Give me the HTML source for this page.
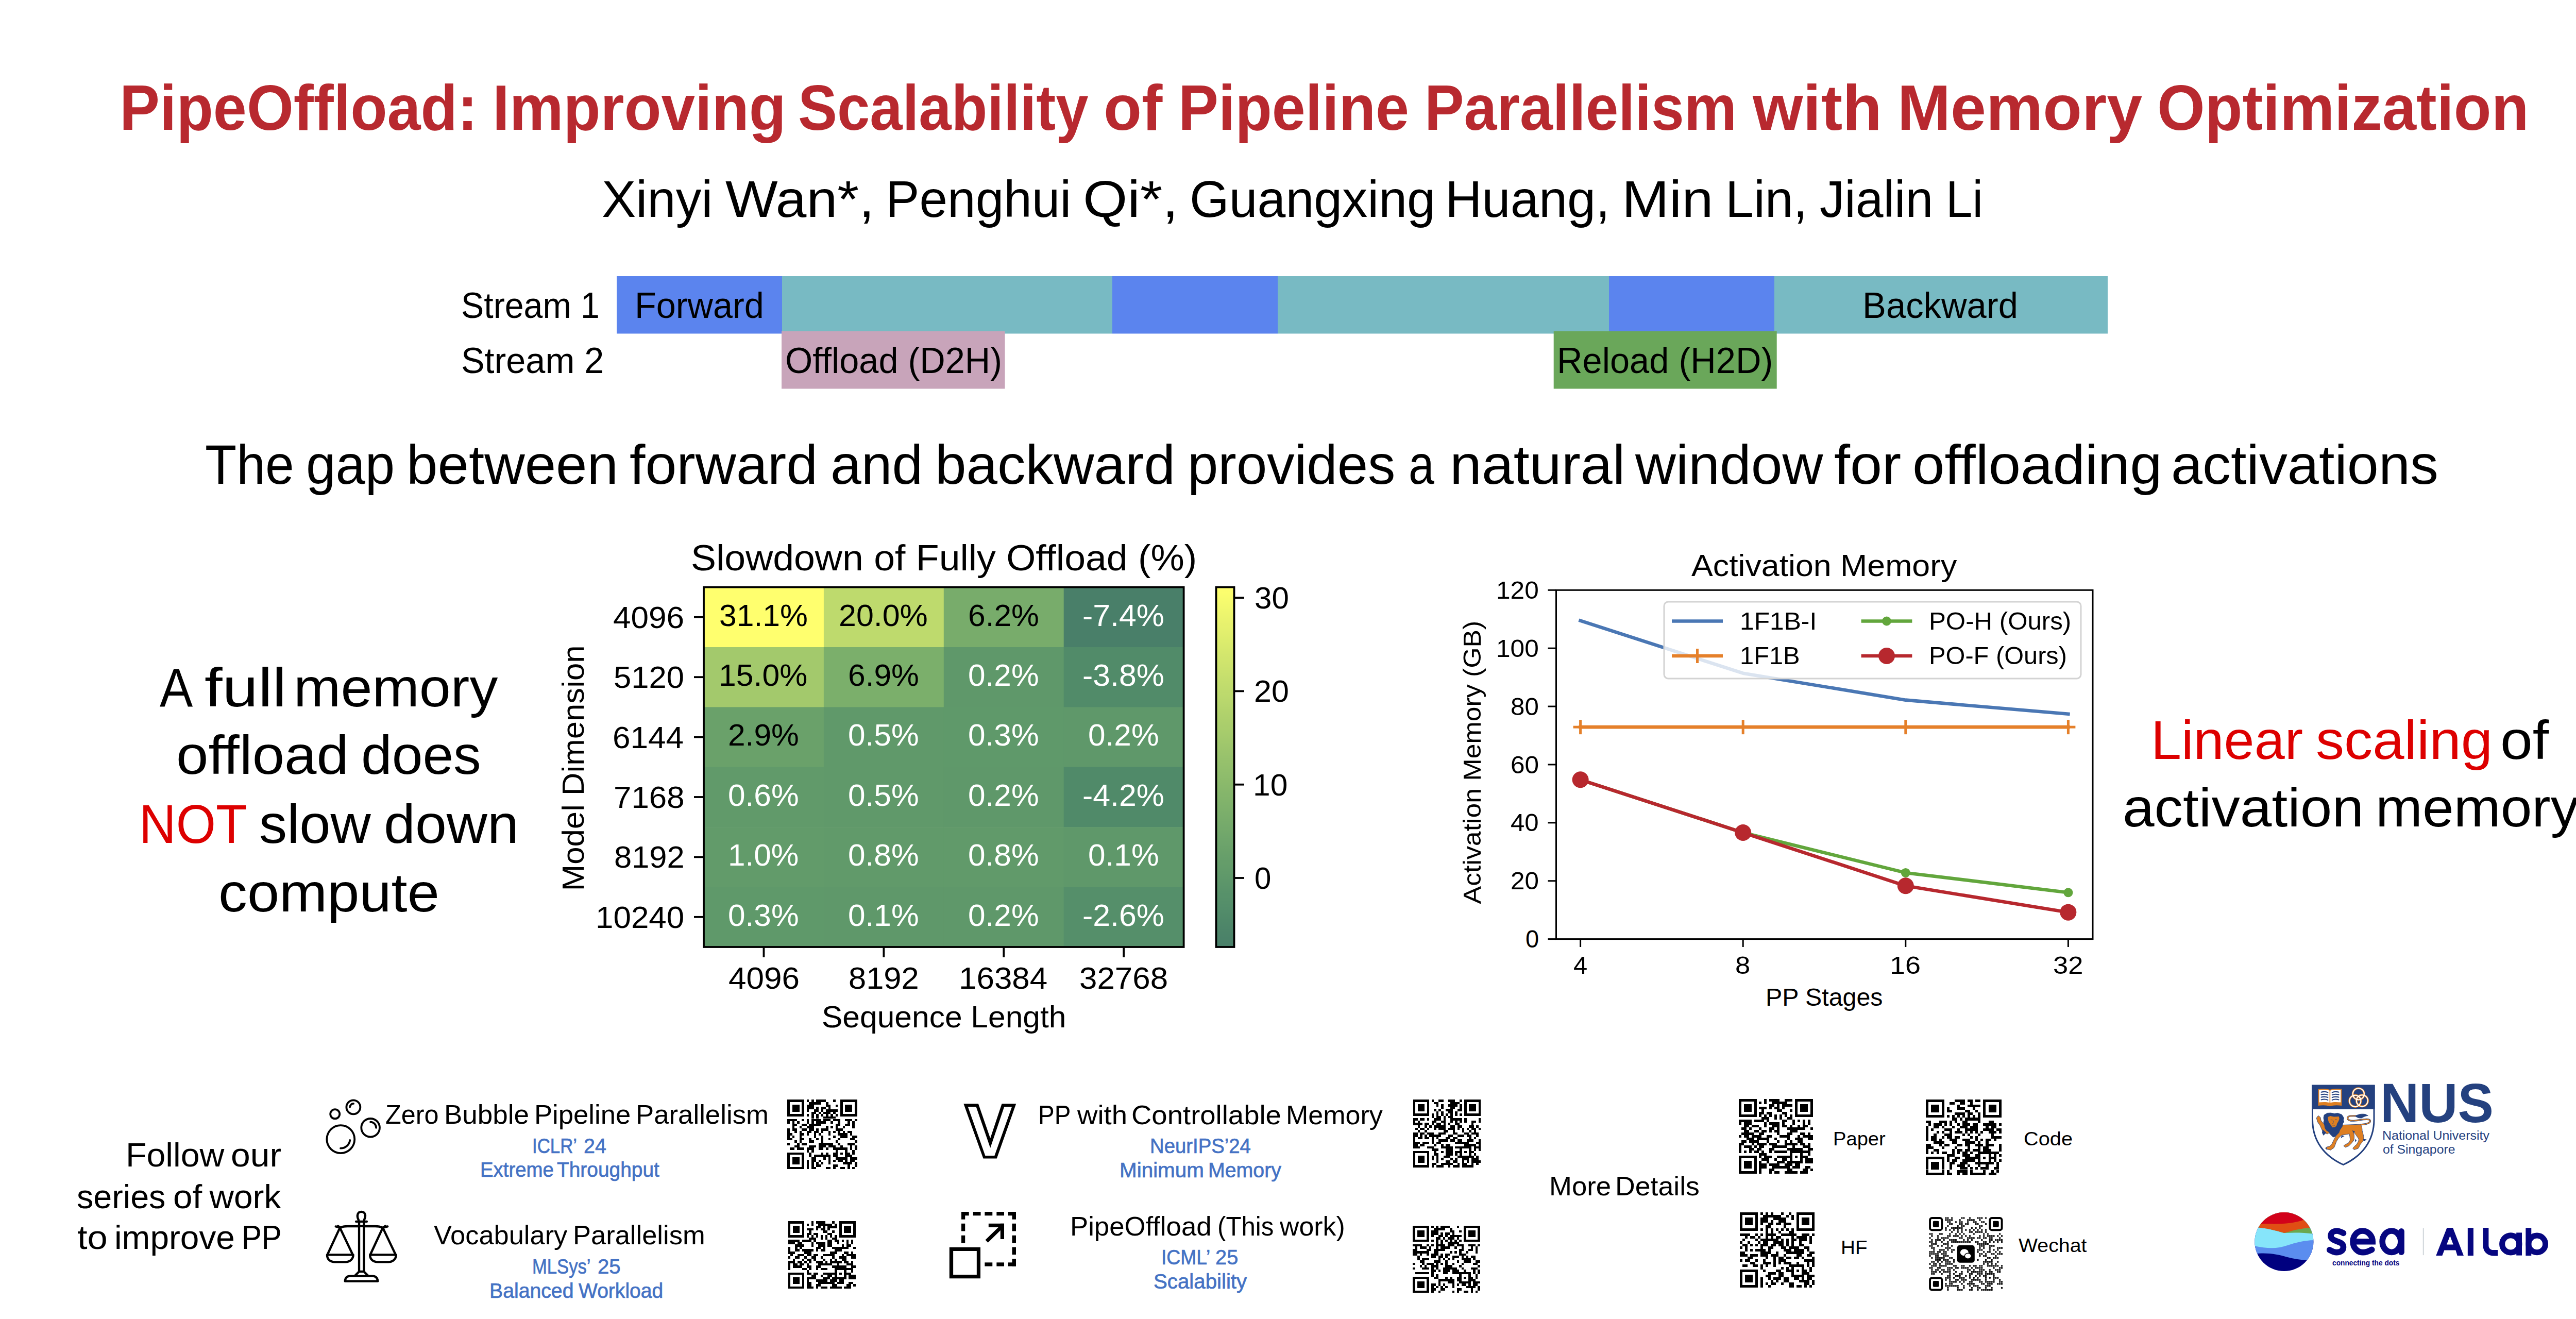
<!DOCTYPE html>
<html><head><meta charset="utf-8"><style>
html,body{margin:0;padding:0;background:#fff;width:5120px;height:2560px;overflow:hidden}
body{position:relative;font-family:"Liberation Sans",sans-serif}
.t{position:absolute;line-height:0;white-space:nowrap;transform-origin:0 0}
svg{position:absolute;left:0;top:0}
</style></head><body>
<svg width="5120" height="2560" viewBox="0 0 5120 2560">
<rect x="1197" y="536" width="321" height="111.5" fill="#5B84EE"/>
<rect x="1518" y="536" width="641" height="111.5" fill="#78BAC3"/>
<rect x="2159" y="536" width="321" height="111.5" fill="#5B84EE"/>
<rect x="2480" y="536" width="643" height="111.5" fill="#78BAC3"/>
<rect x="3123" y="536" width="321" height="111.5" fill="#5B84EE"/>
<rect x="3444" y="536" width="647" height="111.5" fill="#78BAC3"/>
<rect x="1517" y="643" width="433.5" height="111.5" fill="#C8A4BA"/>
<rect x="3015.7" y="643" width="433" height="111.5" fill="#6AA75A"/>
<rect x="1366" y="1139.6" width="233.5" height="117" fill="#FFFF6E"/>
<rect x="1598.9" y="1139.6" width="233.5" height="117" fill="#BEDA6D"/>
<rect x="1831.8" y="1139.6" width="233.5" height="117" fill="#78AC6B"/>
<rect x="2064.7" y="1139.6" width="233.5" height="117" fill="#497F69"/>
<rect x="1366" y="1256" width="233.5" height="117" fill="#A3C96C"/>
<rect x="1598.9" y="1256" width="233.5" height="117" fill="#7BAF6B"/>
<rect x="1831.8" y="1256" width="233.5" height="117" fill="#5F986A"/>
<rect x="2064.7" y="1256" width="233.5" height="117" fill="#518B69"/>
<rect x="1366" y="1372.4" width="233.5" height="117" fill="#6AA16A"/>
<rect x="1598.9" y="1372.4" width="233.5" height="117" fill="#60996A"/>
<rect x="1831.8" y="1372.4" width="233.5" height="117" fill="#5F996A"/>
<rect x="2064.7" y="1372.4" width="233.5" height="117" fill="#5F986A"/>
<rect x="1366" y="1488.8" width="233.5" height="117" fill="#619A6A"/>
<rect x="1598.9" y="1488.8" width="233.5" height="117" fill="#60996A"/>
<rect x="1831.8" y="1488.8" width="233.5" height="117" fill="#5F986A"/>
<rect x="2064.7" y="1488.8" width="233.5" height="117" fill="#508A69"/>
<rect x="1366" y="1605.2" width="233.5" height="117" fill="#629B6A"/>
<rect x="1598.9" y="1605.2" width="233.5" height="117" fill="#619A6A"/>
<rect x="1831.8" y="1605.2" width="233.5" height="117" fill="#619A6A"/>
<rect x="2064.7" y="1605.2" width="233.5" height="117" fill="#5F986A"/>
<rect x="1366" y="1721.6" width="233.5" height="117" fill="#5F996A"/>
<rect x="1598.9" y="1721.6" width="233.5" height="117" fill="#5F986A"/>
<rect x="1831.8" y="1721.6" width="233.5" height="117" fill="#5F986A"/>
<rect x="2064.7" y="1721.6" width="233.5" height="117" fill="#558F6A"/>
<rect x="1366" y="1139.6" width="931.6" height="698.4" fill="none" stroke="#000" stroke-width="3.8"/>
<line x1="1347" y1="1197.8" x2="1366" y2="1197.8" stroke="#000" stroke-width="3.8"/>
<line x1="1347" y1="1314.2" x2="1366" y2="1314.2" stroke="#000" stroke-width="3.8"/>
<line x1="1347" y1="1430.6" x2="1366" y2="1430.6" stroke="#000" stroke-width="3.8"/>
<line x1="1347" y1="1547" x2="1366" y2="1547" stroke="#000" stroke-width="3.8"/>
<line x1="1347" y1="1663.4" x2="1366" y2="1663.4" stroke="#000" stroke-width="3.8"/>
<line x1="1347" y1="1779.8" x2="1366" y2="1779.8" stroke="#000" stroke-width="3.8"/>
<line x1="1482.45" y1="1838" x2="1482.45" y2="1858" stroke="#000" stroke-width="3.8"/>
<line x1="1715.35" y1="1838" x2="1715.35" y2="1858" stroke="#000" stroke-width="3.8"/>
<line x1="1948.25" y1="1838" x2="1948.25" y2="1858" stroke="#000" stroke-width="3.8"/>
<line x1="2181.15" y1="1838" x2="2181.15" y2="1858" stroke="#000" stroke-width="3.8"/>
<defs><linearGradient id="cbg" x1="0" y1="0" x2="0" y2="1"><stop offset="0.000" stop-color="#FFFF6E"/><stop offset="0.050" stop-color="#F3F96E"/><stop offset="0.100" stop-color="#E8F26E"/><stop offset="0.150" stop-color="#DCEC6D"/><stop offset="0.200" stop-color="#D1E56D"/><stop offset="0.250" stop-color="#C6DF6D"/><stop offset="0.300" stop-color="#BCD96D"/><stop offset="0.350" stop-color="#B1D26C"/><stop offset="0.400" stop-color="#A7CC6C"/><stop offset="0.450" stop-color="#9DC56C"/><stop offset="0.500" stop-color="#93BF6C"/><stop offset="0.550" stop-color="#8AB96B"/><stop offset="0.600" stop-color="#80B26B"/><stop offset="0.650" stop-color="#78AC6B"/><stop offset="0.700" stop-color="#6FA56B"/><stop offset="0.750" stop-color="#679F6A"/><stop offset="0.800" stop-color="#60996A"/><stop offset="0.850" stop-color="#58926A"/><stop offset="0.900" stop-color="#528C6A"/><stop offset="0.950" stop-color="#4D8569"/><stop offset="1.000" stop-color="#497F69"/></linearGradient></defs>
<rect x="2360.5" y="1139.6" width="35" height="698.4" fill="url(#cbg)" stroke="#000" stroke-width="3.8"/>
<line x1="2395.5" y1="1160.1" x2="2415" y2="1160.1" stroke="#000" stroke-width="3.8"/>
<line x1="2395.5" y1="1341.4" x2="2415" y2="1341.4" stroke="#000" stroke-width="3.8"/>
<line x1="2395.5" y1="1522.7" x2="2415" y2="1522.7" stroke="#000" stroke-width="3.8"/>
<line x1="2395.5" y1="1704" x2="2415" y2="1704" stroke="#000" stroke-width="3.8"/>
<polyline points="3067.6,1204.56 3383.2,1306.72 3698.8,1358.65 4014.4,1385.74" fill="none" stroke="#4A77B4" stroke-width="6.6" stroke-linejoin="round" stroke-linecap="square"/>
<polyline points="3067.6,1411.14 3383.2,1411.14 3698.8,1411.14 4014.4,1411.14" fill="none" stroke="#E5802A" stroke-width="6.6" stroke-linejoin="round" stroke-linecap="square"/>
<line x1="3067.6" y1="1397.14" x2="3067.6" y2="1425.14" stroke="#E5802A" stroke-width="5"/>
<line x1="3053.6" y1="1411.14" x2="3081.6" y2="1411.14" stroke="#E5802A" stroke-width="5"/>
<line x1="3383.2" y1="1397.14" x2="3383.2" y2="1425.14" stroke="#E5802A" stroke-width="5"/>
<line x1="3369.2" y1="1411.14" x2="3397.2" y2="1411.14" stroke="#E5802A" stroke-width="5"/>
<line x1="3698.8" y1="1397.14" x2="3698.8" y2="1425.14" stroke="#E5802A" stroke-width="5"/>
<line x1="3684.8" y1="1411.14" x2="3712.8" y2="1411.14" stroke="#E5802A" stroke-width="5"/>
<line x1="4014.4" y1="1397.14" x2="4014.4" y2="1425.14" stroke="#E5802A" stroke-width="5"/>
<line x1="4000.4" y1="1411.14" x2="4028.4" y2="1411.14" stroke="#E5802A" stroke-width="5"/>
<polyline points="3067.6,1513.3 3383.2,1616.02 3698.8,1693.91 4014.4,1732.29" fill="none" stroke="#62A63C" stroke-width="6.6" stroke-linejoin="round" stroke-linecap="square"/>
<circle cx="3067.6" cy="1513.3" r="9" fill="#62A63C"/>
<circle cx="3383.2" cy="1616.02" r="9" fill="#62A63C"/>
<circle cx="3698.8" cy="1693.91" r="9" fill="#62A63C"/>
<circle cx="4014.4" cy="1732.29" r="9" fill="#62A63C"/>
<polyline points="3067.6,1513.3 3383.2,1616.02 3698.8,1719.31 4014.4,1770.67" fill="none" stroke="#B7282E" stroke-width="6.6" stroke-linejoin="round" stroke-linecap="square"/>
<circle cx="3067.6" cy="1513.3" r="16" fill="#B7282E"/>
<circle cx="3383.2" cy="1616.02" r="16" fill="#B7282E"/>
<circle cx="3698.8" cy="1719.31" r="16" fill="#B7282E"/>
<circle cx="4014.4" cy="1770.67" r="16" fill="#B7282E"/>
<rect x="3230" y="1168" width="809" height="149" rx="8" ry="8" fill="#fff" fill-opacity="0.8" stroke="#D3D3D3" stroke-width="3"/>
<line x1="3245" y1="1205.5" x2="3344" y2="1205.5" stroke="#4A77B4" stroke-width="6.6"/>
<line x1="3245" y1="1273" x2="3344" y2="1273" stroke="#E5802A" stroke-width="6.6"/>
<line x1="3294.5" y1="1259" x2="3294.5" y2="1287" stroke="#E5802A" stroke-width="5"/>
<line x1="3612.6" y1="1205.5" x2="3711.4" y2="1205.5" stroke="#62A63C" stroke-width="6.6"/>
<circle cx="3662" cy="1205.5" r="9" fill="#62A63C"/>
<line x1="3612.6" y1="1273" x2="3711.4" y2="1273" stroke="#B7282E" stroke-width="6.6"/>
<circle cx="3662" cy="1273" r="16" fill="#B7282E"/>
<rect x="3020.5" y="1145.3" width="1041.5" height="677.3" fill="none" stroke="#000" stroke-width="3"/>
<line x1="3004.5" y1="1822.6" x2="3020.5" y2="1822.6" stroke="#000" stroke-width="3"/>
<line x1="3004.5" y1="1709.72" x2="3020.5" y2="1709.72" stroke="#000" stroke-width="3"/>
<line x1="3004.5" y1="1596.83" x2="3020.5" y2="1596.83" stroke="#000" stroke-width="3"/>
<line x1="3004.5" y1="1483.95" x2="3020.5" y2="1483.95" stroke="#000" stroke-width="3"/>
<line x1="3004.5" y1="1371.07" x2="3020.5" y2="1371.07" stroke="#000" stroke-width="3"/>
<line x1="3004.5" y1="1258.18" x2="3020.5" y2="1258.18" stroke="#000" stroke-width="3"/>
<line x1="3004.5" y1="1145.3" x2="3020.5" y2="1145.3" stroke="#000" stroke-width="3"/>
<line x1="3067.6" y1="1822.6" x2="3067.6" y2="1838" stroke="#000" stroke-width="3"/>
<line x1="3383.2" y1="1822.6" x2="3383.2" y2="1838" stroke="#000" stroke-width="3"/>
<line x1="3698.8" y1="1822.6" x2="3698.8" y2="1838" stroke="#000" stroke-width="3"/>
<line x1="4014.4" y1="1822.6" x2="4014.4" y2="1838" stroke="#000" stroke-width="3"/>
<svg x="620" y="2120" width="140" height="140" viewBox="0 0 1288 1288"><g fill="none" stroke="#000" stroke-width="35" stroke-linecap="round" stroke-linejoin="round"><circle cx="278" cy="388" r="83"/><circle cx="606" cy="265" r="124"/><circle cx="912" cy="633" r="164"/><circle cx="380" cy="838" r="248"/><path d="M545 262 A63 63 0 0 1 608 202"/><path d="M912 530 A103 103 0 0 1 1013 633"/><path d="M545 855 A166 166 0 0 1 378 1000"/></g></svg>
<svg x="620" y="2340" width="160" height="160" viewBox="0 0 1288 1288"><g fill="none" stroke="#000" stroke-width="35" stroke-linecap="round" stroke-linejoin="round"><path d="M620 1030 V250 M695 1030 V250 M620 320 H695"/><path d="M612 225 C575 150 600 95 655 95 C712 95 735 150 698 225"/><path d="M572 248 H740"/><path d="M330 345 C360 325 400 322 440 322 H600 M715 322 H870 C910 322 950 325 980 345"/><path d="M255 325 L330 345 L290 318 M1065 325 L990 345 L1030 318"/><path d="M320 345 L125 765 M320 345 L520 765 M120 768 H528 M120 768 C120 830 160 880 240 880 H410 C480 880 528 830 528 768"/><path d="M990 345 L795 765 M990 345 L1190 765 M790 768 H1198 M790 768 C790 830 830 880 910 880 H1080 C1150 880 1198 830 1198 768"/><path d="M620 1030 H695 L760 1095 M620 1030 L555 1095"/><path d="M400 1180 C405 1120 440 1100 480 1100 H830 C870 1100 905 1120 912 1180 Z"/></g></svg>
<svg x="1830" y="2120" width="160" height="160" viewBox="0 0 1288 1288"><path fill="#000" fill-rule="evenodd" d="M325 180 H555 L742 718 L922 180 H1145 L843 1035 H632 Z M392 225 L663 990 H808 L1080 225 H960 L742 870 L520 225 Z"/></svg>
<svg x="1830" y="2340" width="160" height="160" viewBox="0 0 1288 1288"><rect x="290" y="97" width="118" height="58"/><rect x="290" y="97" width="58" height="118"/><rect x="473" y="97" width="119" height="58"/><rect x="655" y="97" width="120" height="58"/><rect x="840" y="97" width="118" height="58"/><rect x="1022" y="97" width="121" height="58"/><rect x="1083" y="97" width="60" height="118"/><rect x="1083" y="280" width="60" height="118"/><rect x="1083" y="465" width="60" height="118"/><rect x="1083" y="648" width="60" height="117"/><rect x="1083" y="830" width="60" height="117"/><rect x="1022" y="888" width="121" height="59"/><rect x="655" y="888" width="120" height="59"/><rect x="840" y="888" width="118" height="59"/><rect x="290" y="280" width="58" height="118"/><rect x="290" y="465" width="58" height="118"/><rect x="715" y="280" width="243" height="58"/><rect x="900" y="280" width="58" height="243"/><path d="M103 650 H588 V1138 H103 Z M162 708 V1078 H530 V708 Z" fill-rule="evenodd"/><path d="M685 557 L925 322" stroke="#000" stroke-width="58"/></svg>
<path fill="#000" shape-rendering="crispEdges" d="M1528.4 2134.2h32.63v4.66h-32.63zM1565.7 2134.2h4.66v4.66h-4.66zM1575.02 2134.2h4.66v4.66h-4.66zM1584.34 2134.2h18.65v4.66h-18.65zM1616.98 2134.2h4.66v4.66h-4.66zM1630.97 2134.2h32.63v4.66h-32.63zM1528.4 2138.86h4.66v4.66h-4.66zM1556.37 2138.86h4.66v4.66h-4.66zM1570.36 2138.86h23.31v4.66h-23.31zM1602.99 2138.86h4.66v4.66h-4.66zM1630.97 2138.86h4.66v4.66h-4.66zM1658.94 2138.86h4.66v4.66h-4.66zM1528.4 2143.52h4.66v4.66h-4.66zM1537.72 2143.52h13.99v4.66h-13.99zM1556.37 2143.52h4.66v4.66h-4.66zM1565.7 2143.52h13.99v4.66h-13.99zM1602.99 2143.52h9.32v4.66h-9.32zM1621.64 2143.52h4.66v4.66h-4.66zM1630.97 2143.52h4.66v4.66h-4.66zM1640.29 2143.52h13.99v4.66h-13.99zM1658.94 2143.52h4.66v4.66h-4.66zM1528.4 2148.19h4.66v4.66h-4.66zM1537.72 2148.19h13.99v4.66h-13.99zM1556.37 2148.19h4.66v4.66h-4.66zM1565.7 2148.19h13.99v4.66h-13.99zM1584.34 2148.19h4.66v4.66h-4.66zM1593.67 2148.19h9.32v4.66h-9.32zM1607.66 2148.19h4.66v4.66h-4.66zM1630.97 2148.19h4.66v4.66h-4.66zM1640.29 2148.19h13.99v4.66h-13.99zM1658.94 2148.19h4.66v4.66h-4.66zM1528.4 2152.85h4.66v4.66h-4.66zM1537.72 2152.85h13.99v4.66h-13.99zM1556.37 2152.85h4.66v4.66h-4.66zM1565.7 2152.85h4.66v4.66h-4.66zM1579.68 2152.85h9.32v4.66h-9.32zM1593.67 2152.85h4.66v4.66h-4.66zM1602.99 2152.85h23.31v4.66h-23.31zM1630.97 2152.85h4.66v4.66h-4.66zM1640.29 2152.85h13.99v4.66h-13.99zM1658.94 2152.85h4.66v4.66h-4.66zM1528.4 2157.51h4.66v4.66h-4.66zM1556.37 2157.51h4.66v4.66h-4.66zM1575.02 2157.51h9.32v4.66h-9.32zM1589.01 2157.51h4.66v4.66h-4.66zM1598.33 2157.51h13.99v4.66h-13.99zM1616.98 2157.51h4.66v4.66h-4.66zM1630.97 2157.51h4.66v4.66h-4.66zM1658.94 2157.51h4.66v4.66h-4.66zM1528.4 2162.17h32.63v4.66h-32.63zM1565.7 2162.17h4.66v4.66h-4.66zM1575.02 2162.17h4.66v4.66h-4.66zM1584.34 2162.17h4.66v4.66h-4.66zM1593.67 2162.17h4.66v4.66h-4.66zM1602.99 2162.17h4.66v4.66h-4.66zM1612.32 2162.17h4.66v4.66h-4.66zM1621.64 2162.17h4.66v4.66h-4.66zM1630.97 2162.17h32.63v4.66h-32.63zM1575.02 2166.83h4.66v4.66h-4.66zM1584.34 2166.83h4.66v4.66h-4.66zM1598.33 2166.83h23.31v4.66h-23.31zM1528.4 2171.5h18.65v4.66h-18.65zM1556.37 2171.5h4.66v4.66h-4.66zM1565.7 2171.5h4.66v4.66h-4.66zM1575.02 2171.5h18.65v4.66h-18.65zM1598.33 2171.5h13.99v4.66h-13.99zM1616.98 2171.5h13.99v4.66h-13.99zM1640.29 2171.5h13.99v4.66h-13.99zM1658.94 2171.5h4.66v4.66h-4.66zM1528.4 2176.16h4.66v4.66h-4.66zM1537.72 2176.16h4.66v4.66h-4.66zM1547.05 2176.16h4.66v4.66h-4.66zM1565.7 2176.16h4.66v4.66h-4.66zM1575.02 2176.16h4.66v4.66h-4.66zM1584.34 2176.16h18.65v4.66h-18.65zM1612.32 2176.16h4.66v4.66h-4.66zM1626.3 2176.16h4.66v4.66h-4.66zM1644.95 2176.16h4.66v4.66h-4.66zM1654.28 2176.16h4.66v4.66h-4.66zM1537.72 2180.82h9.32v4.66h-9.32zM1556.37 2180.82h9.32v4.66h-9.32zM1570.36 2180.82h23.31v4.66h-23.31zM1621.64 2180.82h9.32v4.66h-9.32zM1640.29 2180.82h9.32v4.66h-9.32zM1654.28 2180.82h4.66v4.66h-4.66zM1537.72 2185.48h4.66v4.66h-4.66zM1551.71 2185.48h4.66v4.66h-4.66zM1565.7 2185.48h13.99v4.66h-13.99zM1602.99 2185.48h4.66v4.66h-4.66zM1612.32 2185.48h4.66v4.66h-4.66zM1621.64 2185.48h4.66v4.66h-4.66zM1635.63 2185.48h4.66v4.66h-4.66zM1654.28 2185.48h4.66v4.66h-4.66zM1528.4 2190.14h4.66v4.66h-4.66zM1537.72 2190.14h9.32v4.66h-9.32zM1556.37 2190.14h9.32v4.66h-9.32zM1570.36 2190.14h9.32v4.66h-9.32zM1584.34 2190.14h4.66v4.66h-4.66zM1593.67 2190.14h13.99v4.66h-13.99zM1621.64 2190.14h13.99v4.66h-13.99zM1528.4 2194.81h4.66v4.66h-4.66zM1542.39 2194.81h4.66v4.66h-4.66zM1551.71 2194.81h4.66v4.66h-4.66zM1565.7 2194.81h9.32v4.66h-9.32zM1579.68 2194.81h9.32v4.66h-9.32zM1593.67 2194.81h4.66v4.66h-4.66zM1607.66 2194.81h4.66v4.66h-4.66zM1616.98 2194.81h4.66v4.66h-4.66zM1626.3 2194.81h4.66v4.66h-4.66zM1635.63 2194.81h4.66v4.66h-4.66zM1644.95 2194.81h9.32v4.66h-9.32zM1528.4 2199.47h9.32v4.66h-9.32zM1551.71 2199.47h9.32v4.66h-9.32zM1565.7 2199.47h4.66v4.66h-4.66zM1579.68 2199.47h4.66v4.66h-4.66zM1589.01 2199.47h4.66v4.66h-4.66zM1607.66 2199.47h4.66v4.66h-4.66zM1626.3 2199.47h18.65v4.66h-18.65zM1649.61 2199.47h4.66v4.66h-4.66zM1528.4 2204.13h4.66v4.66h-4.66zM1537.72 2204.13h4.66v4.66h-4.66zM1551.71 2204.13h4.66v4.66h-4.66zM1579.68 2204.13h4.66v4.66h-4.66zM1593.67 2204.13h4.66v4.66h-4.66zM1616.98 2204.13h4.66v4.66h-4.66zM1630.97 2204.13h13.99v4.66h-13.99zM1654.28 2204.13h9.32v4.66h-9.32zM1528.4 2208.79h9.32v4.66h-9.32zM1551.71 2208.79h9.32v4.66h-9.32zM1570.36 2208.79h4.66v4.66h-4.66zM1584.34 2208.79h4.66v4.66h-4.66zM1593.67 2208.79h4.66v4.66h-4.66zM1607.66 2208.79h4.66v4.66h-4.66zM1626.3 2208.79h4.66v4.66h-4.66zM1649.61 2208.79h9.32v4.66h-9.32zM1542.39 2213.46h4.66v4.66h-4.66zM1551.71 2213.46h4.66v4.66h-4.66zM1570.36 2213.46h9.32v4.66h-9.32zM1593.67 2213.46h4.66v4.66h-4.66zM1621.64 2213.46h4.66v4.66h-4.66zM1658.94 2213.46h4.66v4.66h-4.66zM1528.4 2218.12h4.66v4.66h-4.66zM1547.05 2218.12h4.66v4.66h-4.66zM1556.37 2218.12h9.32v4.66h-9.32zM1589.01 2218.12h27.97v4.66h-27.97zM1626.3 2218.12h4.66v4.66h-4.66zM1644.95 2218.12h13.99v4.66h-13.99zM1542.39 2222.78h9.32v4.66h-9.32zM1570.36 2222.78h13.99v4.66h-13.99zM1589.01 2222.78h13.99v4.66h-13.99zM1607.66 2222.78h13.99v4.66h-13.99zM1630.97 2222.78h4.66v4.66h-4.66zM1649.61 2222.78h4.66v4.66h-4.66zM1658.94 2222.78h4.66v4.66h-4.66zM1533.06 2227.44h9.32v4.66h-9.32zM1547.05 2227.44h13.99v4.66h-13.99zM1565.7 2227.44h13.99v4.66h-13.99zM1589.01 2227.44h9.32v4.66h-9.32zM1602.99 2227.44h4.66v4.66h-4.66zM1616.98 2227.44h27.97v4.66h-27.97zM1649.61 2227.44h4.66v4.66h-4.66zM1658.94 2227.44h4.66v4.66h-4.66zM1565.7 2232.1h4.66v4.66h-4.66zM1575.02 2232.1h4.66v4.66h-4.66zM1621.64 2232.1h4.66v4.66h-4.66zM1640.29 2232.1h4.66v4.66h-4.66zM1654.28 2232.1h4.66v4.66h-4.66zM1528.4 2236.77h32.63v4.66h-32.63zM1570.36 2236.77h4.66v4.66h-4.66zM1593.67 2236.77h4.66v4.66h-4.66zM1602.99 2236.77h4.66v4.66h-4.66zM1616.98 2236.77h9.32v4.66h-9.32zM1630.97 2236.77h4.66v4.66h-4.66zM1640.29 2236.77h9.32v4.66h-9.32zM1654.28 2236.77h4.66v4.66h-4.66zM1528.4 2241.43h4.66v4.66h-4.66zM1556.37 2241.43h4.66v4.66h-4.66zM1570.36 2241.43h4.66v4.66h-4.66zM1579.68 2241.43h32.63v4.66h-32.63zM1616.98 2241.43h9.32v4.66h-9.32zM1640.29 2241.43h13.99v4.66h-13.99zM1528.4 2246.09h4.66v4.66h-4.66zM1537.72 2246.09h13.99v4.66h-13.99zM1556.37 2246.09h4.66v4.66h-4.66zM1575.02 2246.09h9.32v4.66h-9.32zM1598.33 2246.09h4.66v4.66h-4.66zM1607.66 2246.09h4.66v4.66h-4.66zM1621.64 2246.09h23.31v4.66h-23.31zM1649.61 2246.09h13.99v4.66h-13.99zM1528.4 2250.75h4.66v4.66h-4.66zM1537.72 2250.75h13.99v4.66h-13.99zM1556.37 2250.75h4.66v4.66h-4.66zM1565.7 2250.75h4.66v4.66h-4.66zM1575.02 2250.75h9.32v4.66h-9.32zM1589.01 2250.75h4.66v4.66h-4.66zM1607.66 2250.75h4.66v4.66h-4.66zM1616.98 2250.75h4.66v4.66h-4.66zM1626.3 2250.75h9.32v4.66h-9.32zM1640.29 2250.75h4.66v4.66h-4.66zM1649.61 2250.75h9.32v4.66h-9.32zM1528.4 2255.41h4.66v4.66h-4.66zM1537.72 2255.41h13.99v4.66h-13.99zM1556.37 2255.41h4.66v4.66h-4.66zM1565.7 2255.41h4.66v4.66h-4.66zM1575.02 2255.41h4.66v4.66h-4.66zM1584.34 2255.41h4.66v4.66h-4.66zM1593.67 2255.41h4.66v4.66h-4.66zM1607.66 2255.41h4.66v4.66h-4.66zM1635.63 2255.41h18.65v4.66h-18.65zM1658.94 2255.41h4.66v4.66h-4.66zM1528.4 2260.08h4.66v4.66h-4.66zM1556.37 2260.08h4.66v4.66h-4.66zM1565.7 2260.08h4.66v4.66h-4.66zM1575.02 2260.08h4.66v4.66h-4.66zM1584.34 2260.08h9.32v4.66h-9.32zM1616.98 2260.08h9.32v4.66h-9.32zM1644.95 2260.08h4.66v4.66h-4.66zM1658.94 2260.08h4.66v4.66h-4.66zM1528.4 2264.74h32.63v4.66h-32.63zM1565.7 2264.74h4.66v4.66h-4.66zM1575.02 2264.74h9.32v4.66h-9.32zM1602.99 2264.74h9.32v4.66h-9.32zM1616.98 2264.74h4.66v4.66h-4.66zM1630.97 2264.74h9.32v4.66h-9.32zM1644.95 2264.74h4.66v4.66h-4.66zM1654.28 2264.74h4.66v4.66h-4.66z"/>
<path fill="#000" shape-rendering="crispEdges" d="M1529.5 2370.2h31.67v4.52h-31.67zM1574.74 2370.2h4.52v4.52h-4.52zM1583.79 2370.2h18.1v4.52h-18.1zM1615.46 2370.2h4.52v4.52h-4.52zM1629.03 2370.2h31.67v4.52h-31.67zM1529.5 2374.72h4.52v4.52h-4.52zM1556.64 2374.72h4.52v4.52h-4.52zM1565.69 2374.72h4.52v4.52h-4.52zM1574.74 2374.72h4.52v4.52h-4.52zM1588.31 2374.72h27.14v4.52h-27.14zM1619.98 2374.72h4.52v4.52h-4.52zM1629.03 2374.72h4.52v4.52h-4.52zM1656.18 2374.72h4.52v4.52h-4.52zM1529.5 2379.25h4.52v4.52h-4.52zM1538.55 2379.25h13.57v4.52h-13.57zM1556.64 2379.25h4.52v4.52h-4.52zM1583.79 2379.25h9.05v4.52h-9.05zM1597.36 2379.25h4.52v4.52h-4.52zM1606.41 2379.25h18.1v4.52h-18.1zM1629.03 2379.25h4.52v4.52h-4.52zM1638.08 2379.25h13.57v4.52h-13.57zM1656.18 2379.25h4.52v4.52h-4.52zM1529.5 2383.77h4.52v4.52h-4.52zM1538.55 2383.77h13.57v4.52h-13.57zM1556.64 2383.77h4.52v4.52h-4.52zM1565.69 2383.77h13.57v4.52h-13.57zM1583.79 2383.77h4.52v4.52h-4.52zM1592.84 2383.77h9.05v4.52h-9.05zM1606.41 2383.77h4.52v4.52h-4.52zM1629.03 2383.77h4.52v4.52h-4.52zM1638.08 2383.77h13.57v4.52h-13.57zM1656.18 2383.77h4.52v4.52h-4.52zM1529.5 2388.3h4.52v4.52h-4.52zM1538.55 2388.3h13.57v4.52h-13.57zM1556.64 2388.3h4.52v4.52h-4.52zM1570.22 2388.3h4.52v4.52h-4.52zM1597.36 2388.3h9.05v4.52h-9.05zM1615.46 2388.3h4.52v4.52h-4.52zM1629.03 2388.3h4.52v4.52h-4.52zM1638.08 2388.3h13.57v4.52h-13.57zM1656.18 2388.3h4.52v4.52h-4.52zM1529.5 2392.82h4.52v4.52h-4.52zM1556.64 2392.82h4.52v4.52h-4.52zM1565.69 2392.82h9.05v4.52h-9.05zM1579.27 2392.82h9.05v4.52h-9.05zM1606.41 2392.82h9.05v4.52h-9.05zM1629.03 2392.82h4.52v4.52h-4.52zM1656.18 2392.82h4.52v4.52h-4.52zM1529.5 2397.34h31.67v4.52h-31.67zM1565.69 2397.34h4.52v4.52h-4.52zM1574.74 2397.34h4.52v4.52h-4.52zM1583.79 2397.34h4.52v4.52h-4.52zM1592.84 2397.34h4.52v4.52h-4.52zM1601.89 2397.34h4.52v4.52h-4.52zM1610.93 2397.34h4.52v4.52h-4.52zM1619.98 2397.34h4.52v4.52h-4.52zM1629.03 2397.34h31.67v4.52h-31.67zM1570.22 2401.87h13.57v4.52h-13.57zM1592.84 2401.87h4.52v4.52h-4.52zM1601.89 2401.87h4.52v4.52h-4.52zM1615.46 2401.87h9.05v4.52h-9.05zM1529.5 2406.39h22.62v4.52h-22.62zM1556.64 2406.39h18.1v4.52h-18.1zM1579.27 2406.39h4.52v4.52h-4.52zM1606.41 2406.39h9.05v4.52h-9.05zM1619.98 2406.39h9.05v4.52h-9.05zM1633.56 2406.39h4.52v4.52h-4.52zM1642.6 2406.39h4.52v4.52h-4.52zM1651.65 2406.39h4.52v4.52h-4.52zM1529.5 2410.92h13.57v4.52h-13.57zM1547.6 2410.92h9.05v4.52h-9.05zM1574.74 2410.92h4.52v4.52h-4.52zM1583.79 2410.92h18.1v4.52h-18.1zM1606.41 2410.92h9.05v4.52h-9.05zM1624.51 2410.92h4.52v4.52h-4.52zM1642.6 2410.92h4.52v4.52h-4.52zM1651.65 2410.92h4.52v4.52h-4.52zM1543.07 2415.44h18.1v4.52h-18.1zM1574.74 2415.44h4.52v4.52h-4.52zM1588.31 2415.44h13.57v4.52h-13.57zM1606.41 2415.44h9.05v4.52h-9.05zM1633.56 2415.44h4.52v4.52h-4.52zM1642.6 2415.44h9.05v4.52h-9.05zM1529.5 2419.97h4.52v4.52h-4.52zM1543.07 2419.97h4.52v4.52h-4.52zM1552.12 2419.97h4.52v4.52h-4.52zM1583.79 2419.97h9.05v4.52h-9.05zM1597.36 2419.97h4.52v4.52h-4.52zM1615.46 2419.97h31.67v4.52h-31.67zM1656.18 2419.97h4.52v4.52h-4.52zM1529.5 2424.49h4.52v4.52h-4.52zM1543.07 2424.49h9.05v4.52h-9.05zM1556.64 2424.49h22.62v4.52h-22.62zM1583.79 2424.49h4.52v4.52h-4.52zM1592.84 2424.49h9.05v4.52h-9.05zM1619.98 2424.49h13.57v4.52h-13.57zM1529.5 2429.01h13.57v4.52h-13.57zM1561.17 2429.01h13.57v4.52h-13.57zM1610.93 2429.01h13.57v4.52h-13.57zM1638.08 2429.01h9.05v4.52h-9.05zM1651.65 2429.01h4.52v4.52h-4.52zM1534.02 2433.54h4.52v4.52h-4.52zM1547.6 2433.54h13.57v4.52h-13.57zM1565.69 2433.54h9.05v4.52h-9.05zM1579.27 2433.54h9.05v4.52h-9.05zM1597.36 2433.54h22.62v4.52h-22.62zM1633.56 2433.54h4.52v4.52h-4.52zM1642.6 2433.54h18.1v4.52h-18.1zM1529.5 2438.06h4.52v4.52h-4.52zM1543.07 2438.06h9.05v4.52h-9.05zM1561.17 2438.06h4.52v4.52h-4.52zM1574.74 2438.06h9.05v4.52h-9.05zM1592.84 2438.06h4.52v4.52h-4.52zM1615.46 2438.06h4.52v4.52h-4.52zM1629.03 2438.06h13.57v4.52h-13.57zM1651.65 2438.06h9.05v4.52h-9.05zM1538.55 2442.59h4.52v4.52h-4.52zM1556.64 2442.59h4.52v4.52h-4.52zM1565.69 2442.59h9.05v4.52h-9.05zM1579.27 2442.59h4.52v4.52h-4.52zM1597.36 2442.59h4.52v4.52h-4.52zM1610.93 2442.59h4.52v4.52h-4.52zM1619.98 2442.59h4.52v4.52h-4.52zM1633.56 2442.59h9.05v4.52h-9.05zM1529.5 2447.11h13.57v4.52h-13.57zM1547.6 2447.11h9.05v4.52h-9.05zM1561.17 2447.11h4.52v4.52h-4.52zM1570.22 2447.11h4.52v4.52h-4.52zM1583.79 2447.11h13.57v4.52h-13.57zM1601.89 2447.11h4.52v4.52h-4.52zM1610.93 2447.11h22.62v4.52h-22.62zM1638.08 2447.11h9.05v4.52h-9.05zM1651.65 2447.11h4.52v4.52h-4.52zM1529.5 2451.63h4.52v4.52h-4.52zM1538.55 2451.63h9.05v4.52h-9.05zM1552.12 2451.63h9.05v4.52h-9.05zM1565.69 2451.63h4.52v4.52h-4.52zM1588.31 2451.63h27.14v4.52h-27.14zM1624.51 2451.63h4.52v4.52h-4.52zM1642.6 2451.63h13.57v4.52h-13.57zM1529.5 2456.16h4.52v4.52h-4.52zM1538.55 2456.16h18.1v4.52h-18.1zM1565.69 2456.16h9.05v4.52h-9.05zM1583.79 2456.16h9.05v4.52h-9.05zM1615.46 2456.16h27.14v4.52h-27.14zM1651.65 2456.16h9.05v4.52h-9.05zM1529.5 2460.68h4.52v4.52h-4.52zM1556.64 2460.68h9.05v4.52h-9.05zM1570.22 2460.68h4.52v4.52h-4.52zM1583.79 2460.68h4.52v4.52h-4.52zM1592.84 2460.68h13.57v4.52h-13.57zM1619.98 2460.68h36.19v4.52h-36.19zM1565.69 2465.21h4.52v4.52h-4.52zM1619.98 2465.21h4.52v4.52h-4.52zM1638.08 2465.21h4.52v4.52h-4.52zM1651.65 2465.21h4.52v4.52h-4.52zM1529.5 2469.73h31.67v4.52h-31.67zM1565.69 2469.73h9.05v4.52h-9.05zM1579.27 2469.73h9.05v4.52h-9.05zM1597.36 2469.73h27.14v4.52h-27.14zM1629.03 2469.73h4.52v4.52h-4.52zM1638.08 2469.73h13.57v4.52h-13.57zM1529.5 2474.26h4.52v4.52h-4.52zM1556.64 2474.26h4.52v4.52h-4.52zM1574.74 2474.26h9.05v4.52h-9.05zM1592.84 2474.26h4.52v4.52h-4.52zM1606.41 2474.26h9.05v4.52h-9.05zM1619.98 2474.26h4.52v4.52h-4.52zM1638.08 2474.26h4.52v4.52h-4.52zM1647.13 2474.26h13.57v4.52h-13.57zM1529.5 2478.78h4.52v4.52h-4.52zM1538.55 2478.78h13.57v4.52h-13.57zM1556.64 2478.78h4.52v4.52h-4.52zM1565.69 2478.78h18.1v4.52h-18.1zM1597.36 2478.78h13.57v4.52h-13.57zM1615.46 2478.78h27.14v4.52h-27.14zM1647.13 2478.78h13.57v4.52h-13.57zM1529.5 2483.3h4.52v4.52h-4.52zM1538.55 2483.3h13.57v4.52h-13.57zM1556.64 2483.3h4.52v4.52h-4.52zM1565.69 2483.3h4.52v4.52h-4.52zM1583.79 2483.3h22.62v4.52h-22.62zM1610.93 2483.3h13.57v4.52h-13.57zM1629.03 2483.3h9.05v4.52h-9.05zM1529.5 2487.83h4.52v4.52h-4.52zM1538.55 2487.83h13.57v4.52h-13.57zM1556.64 2487.83h4.52v4.52h-4.52zM1565.69 2487.83h9.05v4.52h-9.05zM1588.31 2487.83h31.67v4.52h-31.67zM1624.51 2487.83h13.57v4.52h-13.57zM1647.13 2487.83h9.05v4.52h-9.05zM1529.5 2492.35h4.52v4.52h-4.52zM1556.64 2492.35h4.52v4.52h-4.52zM1565.69 2492.35h9.05v4.52h-9.05zM1583.79 2492.35h9.05v4.52h-9.05zM1615.46 2492.35h9.05v4.52h-9.05zM1642.6 2492.35h9.05v4.52h-9.05zM1656.18 2492.35h4.52v4.52h-4.52zM1529.5 2496.88h31.67v4.52h-31.67zM1565.69 2496.88h13.57v4.52h-13.57zM1583.79 2496.88h4.52v4.52h-4.52zM1592.84 2496.88h13.57v4.52h-13.57zM1610.93 2496.88h22.62v4.52h-22.62zM1638.08 2496.88h13.57v4.52h-13.57z"/>
<path fill="#000" shape-rendering="crispEdges" d="M2742.6 2134.1h31.74v4.53h-31.74zM2778.88 2134.1h4.53v4.53h-4.53zM2792.48 2134.1h9.07v4.53h-9.07zM2810.62 2134.1h13.6v4.53h-13.6zM2833.29 2134.1h4.53v4.53h-4.53zM2842.36 2134.1h31.74v4.53h-31.74zM2742.6 2138.63h4.53v4.53h-4.53zM2769.81 2138.63h4.53v4.53h-4.53zM2783.41 2138.63h9.07v4.53h-9.07zM2815.15 2138.63h18.14v4.53h-18.14zM2842.36 2138.63h4.53v4.53h-4.53zM2869.57 2138.63h4.53v4.53h-4.53zM2742.6 2143.17h4.53v4.53h-4.53zM2751.67 2143.17h13.6v4.53h-13.6zM2769.81 2143.17h4.53v4.53h-4.53zM2787.94 2143.17h4.53v4.53h-4.53zM2797.01 2143.17h4.53v4.53h-4.53zM2810.62 2143.17h18.14v4.53h-18.14zM2833.29 2143.17h4.53v4.53h-4.53zM2842.36 2143.17h4.53v4.53h-4.53zM2851.43 2143.17h13.6v4.53h-13.6zM2869.57 2143.17h4.53v4.53h-4.53zM2742.6 2147.7h4.53v4.53h-4.53zM2751.67 2147.7h13.6v4.53h-13.6zM2769.81 2147.7h4.53v4.53h-4.53zM2797.01 2147.7h4.53v4.53h-4.53zM2815.15 2147.7h9.07v4.53h-9.07zM2833.29 2147.7h4.53v4.53h-4.53zM2842.36 2147.7h4.53v4.53h-4.53zM2851.43 2147.7h13.6v4.53h-13.6zM2869.57 2147.7h4.53v4.53h-4.53zM2742.6 2152.24h4.53v4.53h-4.53zM2751.67 2152.24h13.6v4.53h-13.6zM2769.81 2152.24h4.53v4.53h-4.53zM2783.41 2152.24h4.53v4.53h-4.53zM2792.48 2152.24h4.53v4.53h-4.53zM2806.08 2152.24h13.6v4.53h-13.6zM2828.76 2152.24h9.07v4.53h-9.07zM2842.36 2152.24h4.53v4.53h-4.53zM2851.43 2152.24h13.6v4.53h-13.6zM2869.57 2152.24h4.53v4.53h-4.53zM2742.6 2156.77h4.53v4.53h-4.53zM2769.81 2156.77h4.53v4.53h-4.53zM2787.94 2156.77h4.53v4.53h-4.53zM2797.01 2156.77h4.53v4.53h-4.53zM2810.62 2156.77h9.07v4.53h-9.07zM2824.22 2156.77h4.53v4.53h-4.53zM2842.36 2156.77h4.53v4.53h-4.53zM2869.57 2156.77h4.53v4.53h-4.53zM2742.6 2161.31h31.74v4.53h-31.74zM2778.88 2161.31h4.53v4.53h-4.53zM2787.94 2161.31h4.53v4.53h-4.53zM2797.01 2161.31h4.53v4.53h-4.53zM2806.08 2161.31h4.53v4.53h-4.53zM2815.15 2161.31h4.53v4.53h-4.53zM2824.22 2161.31h4.53v4.53h-4.53zM2833.29 2161.31h4.53v4.53h-4.53zM2842.36 2161.31h31.74v4.53h-31.74zM2778.88 2165.84h4.53v4.53h-4.53zM2787.94 2165.84h9.07v4.53h-9.07zM2801.55 2165.84h4.53v4.53h-4.53zM2810.62 2165.84h9.07v4.53h-9.07zM2742.6 2170.38h9.07v4.53h-9.07zM2756.2 2170.38h9.07v4.53h-9.07zM2769.81 2170.38h4.53v4.53h-4.53zM2783.41 2170.38h13.6v4.53h-13.6zM2801.55 2170.38h4.53v4.53h-4.53zM2815.15 2170.38h22.67v4.53h-22.67zM2842.36 2170.38h4.53v4.53h-4.53zM2869.57 2170.38h4.53v4.53h-4.53zM2742.6 2174.91h4.53v4.53h-4.53zM2751.67 2174.91h4.53v4.53h-4.53zM2778.88 2174.91h9.07v4.53h-9.07zM2797.01 2174.91h9.07v4.53h-9.07zM2815.15 2174.91h4.53v4.53h-4.53zM2824.22 2174.91h4.53v4.53h-4.53zM2833.29 2174.91h4.53v4.53h-4.53zM2842.36 2174.91h4.53v4.53h-4.53zM2855.96 2174.91h9.07v4.53h-9.07zM2869.57 2174.91h4.53v4.53h-4.53zM2742.6 2179.44h18.14v4.53h-18.14zM2765.27 2179.44h9.07v4.53h-9.07zM2778.88 2179.44h4.53v4.53h-4.53zM2787.94 2179.44h9.07v4.53h-9.07zM2801.55 2179.44h4.53v4.53h-4.53zM2810.62 2179.44h4.53v4.53h-4.53zM2824.22 2179.44h9.07v4.53h-9.07zM2855.96 2179.44h4.53v4.53h-4.53zM2751.67 2183.98h4.53v4.53h-4.53zM2765.27 2183.98h4.53v4.53h-4.53zM2774.34 2183.98h4.53v4.53h-4.53zM2783.41 2183.98h22.67v4.53h-22.67zM2815.15 2183.98h9.07v4.53h-9.07zM2828.76 2183.98h9.07v4.53h-9.07zM2851.43 2183.98h9.07v4.53h-9.07zM2865.03 2183.98h4.53v4.53h-4.53zM2747.13 2188.51h4.53v4.53h-4.53zM2756.2 2188.51h9.07v4.53h-9.07zM2769.81 2188.51h4.53v4.53h-4.53zM2783.41 2188.51h4.53v4.53h-4.53zM2792.48 2188.51h13.6v4.53h-13.6zM2810.62 2188.51h13.6v4.53h-13.6zM2828.76 2188.51h4.53v4.53h-4.53zM2837.82 2188.51h4.53v4.53h-4.53zM2846.89 2188.51h4.53v4.53h-4.53zM2855.96 2188.51h9.07v4.53h-9.07zM2869.57 2188.51h4.53v4.53h-4.53zM2751.67 2193.05h4.53v4.53h-4.53zM2765.27 2193.05h4.53v4.53h-4.53zM2801.55 2193.05h9.07v4.53h-9.07zM2819.69 2193.05h4.53v4.53h-4.53zM2837.82 2193.05h4.53v4.53h-4.53zM2851.43 2193.05h4.53v4.53h-4.53zM2860.5 2193.05h4.53v4.53h-4.53zM2742.6 2197.58h9.07v4.53h-9.07zM2756.2 2197.58h9.07v4.53h-9.07zM2769.81 2197.58h13.6v4.53h-13.6zM2792.48 2197.58h13.6v4.53h-13.6zM2819.69 2197.58h9.07v4.53h-9.07zM2842.36 2197.58h9.07v4.53h-9.07zM2855.96 2197.58h13.6v4.53h-13.6zM2742.6 2202.12h9.07v4.53h-9.07zM2756.2 2202.12h4.53v4.53h-4.53zM2765.27 2202.12h4.53v4.53h-4.53zM2774.34 2202.12h22.67v4.53h-22.67zM2810.62 2202.12h9.07v4.53h-9.07zM2828.76 2202.12h13.6v4.53h-13.6zM2846.89 2202.12h9.07v4.53h-9.07zM2865.03 2202.12h4.53v4.53h-4.53zM2742.6 2206.65h4.53v4.53h-4.53zM2751.67 2206.65h9.07v4.53h-9.07zM2765.27 2206.65h9.07v4.53h-9.07zM2778.88 2206.65h4.53v4.53h-4.53zM2787.94 2206.65h4.53v4.53h-4.53zM2806.08 2206.65h9.07v4.53h-9.07zM2819.69 2206.65h9.07v4.53h-9.07zM2851.43 2206.65h4.53v4.53h-4.53zM2860.5 2206.65h4.53v4.53h-4.53zM2742.6 2211.19h4.53v4.53h-4.53zM2778.88 2211.19h4.53v4.53h-4.53zM2792.48 2211.19h18.14v4.53h-18.14zM2815.15 2211.19h9.07v4.53h-9.07zM2828.76 2211.19h9.07v4.53h-9.07zM2846.89 2211.19h13.6v4.53h-13.6zM2869.57 2211.19h4.53v4.53h-4.53zM2742.6 2215.72h13.6v4.53h-13.6zM2760.74 2215.72h13.6v4.53h-13.6zM2778.88 2215.72h4.53v4.53h-4.53zM2787.94 2215.72h9.07v4.53h-9.07zM2824.22 2215.72h27.21v4.53h-27.21zM2865.03 2215.72h9.07v4.53h-9.07zM2742.6 2220.26h9.07v4.53h-9.07zM2756.2 2220.26h9.07v4.53h-9.07zM2783.41 2220.26h4.53v4.53h-4.53zM2797.01 2220.26h4.53v4.53h-4.53zM2806.08 2220.26h9.07v4.53h-9.07zM2842.36 2220.26h22.67v4.53h-22.67zM2869.57 2220.26h4.53v4.53h-4.53zM2742.6 2224.79h13.6v4.53h-13.6zM2769.81 2224.79h13.6v4.53h-13.6zM2797.01 2224.79h22.67v4.53h-22.67zM2824.22 2224.79h31.74v4.53h-31.74zM2860.5 2224.79h13.6v4.53h-13.6zM2778.88 2229.32h13.6v4.53h-13.6zM2806.08 2229.32h13.6v4.53h-13.6zM2833.29 2229.32h4.53v4.53h-4.53zM2851.43 2229.32h4.53v4.53h-4.53zM2860.5 2229.32h4.53v4.53h-4.53zM2869.57 2229.32h4.53v4.53h-4.53zM2742.6 2233.86h31.74v4.53h-31.74zM2783.41 2233.86h4.53v4.53h-4.53zM2797.01 2233.86h4.53v4.53h-4.53zM2806.08 2233.86h13.6v4.53h-13.6zM2824.22 2233.86h13.6v4.53h-13.6zM2842.36 2233.86h4.53v4.53h-4.53zM2851.43 2233.86h9.07v4.53h-9.07zM2742.6 2238.39h4.53v4.53h-4.53zM2769.81 2238.39h4.53v4.53h-4.53zM2783.41 2238.39h9.07v4.53h-9.07zM2806.08 2238.39h13.6v4.53h-13.6zM2824.22 2238.39h4.53v4.53h-4.53zM2833.29 2238.39h4.53v4.53h-4.53zM2851.43 2238.39h4.53v4.53h-4.53zM2860.5 2238.39h4.53v4.53h-4.53zM2742.6 2242.93h4.53v4.53h-4.53zM2751.67 2242.93h13.6v4.53h-13.6zM2769.81 2242.93h4.53v4.53h-4.53zM2778.88 2242.93h4.53v4.53h-4.53zM2787.94 2242.93h4.53v4.53h-4.53zM2801.55 2242.93h13.6v4.53h-13.6zM2828.76 2242.93h31.74v4.53h-31.74zM2865.03 2242.93h4.53v4.53h-4.53zM2742.6 2247.46h4.53v4.53h-4.53zM2751.67 2247.46h13.6v4.53h-13.6zM2769.81 2247.46h4.53v4.53h-4.53zM2778.88 2247.46h4.53v4.53h-4.53zM2787.94 2247.46h4.53v4.53h-4.53zM2797.01 2247.46h4.53v4.53h-4.53zM2815.15 2247.46h4.53v4.53h-4.53zM2824.22 2247.46h4.53v4.53h-4.53zM2837.82 2247.46h13.6v4.53h-13.6zM2855.96 2247.46h13.6v4.53h-13.6zM2742.6 2252h4.53v4.53h-4.53zM2751.67 2252h13.6v4.53h-13.6zM2769.81 2252h4.53v4.53h-4.53zM2787.94 2252h4.53v4.53h-4.53zM2806.08 2252h9.07v4.53h-9.07zM2819.69 2252h9.07v4.53h-9.07zM2837.82 2252h4.53v4.53h-4.53zM2846.89 2252h4.53v4.53h-4.53zM2855.96 2252h18.14v4.53h-18.14zM2742.6 2256.53h4.53v4.53h-4.53zM2769.81 2256.53h4.53v4.53h-4.53zM2778.88 2256.53h9.07v4.53h-9.07zM2797.01 2256.53h22.67v4.53h-22.67zM2828.76 2256.53h4.53v4.53h-4.53zM2837.82 2256.53h9.07v4.53h-9.07zM2855.96 2256.53h4.53v4.53h-4.53zM2865.03 2256.53h4.53v4.53h-4.53zM2742.6 2261.07h31.74v4.53h-31.74zM2778.88 2261.07h4.53v4.53h-4.53zM2787.94 2261.07h13.6v4.53h-13.6zM2810.62 2261.07h4.53v4.53h-4.53zM2819.69 2261.07h13.6v4.53h-13.6zM2837.82 2261.07h22.67v4.53h-22.67z"/>
<path fill="#000" shape-rendering="crispEdges" d="M2742.1 2378.8h31.48v4.5h-31.48zM2778.07 2378.8h4.5v4.5h-4.5zM2787.07 2378.8h4.5v4.5h-4.5zM2796.06 2378.8h17.99v4.5h-17.99zM2827.53 2378.8h4.5v4.5h-4.5zM2841.02 2378.8h31.48v4.5h-31.48zM2742.1 2383.3h4.5v4.5h-4.5zM2769.08 2383.3h4.5v4.5h-4.5zM2782.57 2383.3h22.48v4.5h-22.48zM2814.04 2383.3h4.5v4.5h-4.5zM2841.02 2383.3h4.5v4.5h-4.5zM2868 2383.3h4.5v4.5h-4.5zM2742.1 2387.79h4.5v4.5h-4.5zM2751.09 2387.79h13.49v4.5h-13.49zM2769.08 2387.79h4.5v4.5h-4.5zM2778.07 2387.79h13.49v4.5h-13.49zM2814.04 2387.79h8.99v4.5h-8.99zM2832.03 2387.79h4.5v4.5h-4.5zM2841.02 2387.79h4.5v4.5h-4.5zM2850.02 2387.79h13.49v4.5h-13.49zM2868 2387.79h4.5v4.5h-4.5zM2742.1 2392.29h4.5v4.5h-4.5zM2751.09 2392.29h13.49v4.5h-13.49zM2769.08 2392.29h4.5v4.5h-4.5zM2778.07 2392.29h13.49v4.5h-13.49zM2796.06 2392.29h4.5v4.5h-4.5zM2805.05 2392.29h8.99v4.5h-8.99zM2818.54 2392.29h4.5v4.5h-4.5zM2841.02 2392.29h4.5v4.5h-4.5zM2850.02 2392.29h13.49v4.5h-13.49zM2868 2392.29h4.5v4.5h-4.5zM2742.1 2396.79h4.5v4.5h-4.5zM2751.09 2396.79h13.49v4.5h-13.49zM2769.08 2396.79h4.5v4.5h-4.5zM2778.07 2396.79h4.5v4.5h-4.5zM2791.56 2396.79h8.99v4.5h-8.99zM2805.05 2396.79h4.5v4.5h-4.5zM2814.04 2396.79h22.48v4.5h-22.48zM2841.02 2396.79h4.5v4.5h-4.5zM2850.02 2396.79h13.49v4.5h-13.49zM2868 2396.79h4.5v4.5h-4.5zM2742.1 2401.28h4.5v4.5h-4.5zM2769.08 2401.28h4.5v4.5h-4.5zM2787.07 2401.28h8.99v4.5h-8.99zM2800.56 2401.28h4.5v4.5h-4.5zM2809.55 2401.28h13.49v4.5h-13.49zM2827.53 2401.28h4.5v4.5h-4.5zM2841.02 2401.28h4.5v4.5h-4.5zM2868 2401.28h4.5v4.5h-4.5zM2742.1 2405.78h31.48v4.5h-31.48zM2778.07 2405.78h4.5v4.5h-4.5zM2787.07 2405.78h4.5v4.5h-4.5zM2796.06 2405.78h4.5v4.5h-4.5zM2805.05 2405.78h4.5v4.5h-4.5zM2814.04 2405.78h4.5v4.5h-4.5zM2823.04 2405.78h4.5v4.5h-4.5zM2832.03 2405.78h4.5v4.5h-4.5zM2841.02 2405.78h31.48v4.5h-31.48zM2787.07 2410.28h4.5v4.5h-4.5zM2796.06 2410.28h4.5v4.5h-4.5zM2809.55 2410.28h22.48v4.5h-22.48zM2742.1 2414.77h17.99v4.5h-17.99zM2769.08 2414.77h4.5v4.5h-4.5zM2778.07 2414.77h4.5v4.5h-4.5zM2787.07 2414.77h17.99v4.5h-17.99zM2809.55 2414.77h13.49v4.5h-13.49zM2827.53 2414.77h13.49v4.5h-13.49zM2850.02 2414.77h13.49v4.5h-13.49zM2868 2414.77h4.5v4.5h-4.5zM2746.6 2419.27h4.5v4.5h-4.5zM2755.59 2419.27h13.49v4.5h-13.49zM2773.58 2419.27h4.5v4.5h-4.5zM2787.07 2419.27h4.5v4.5h-4.5zM2796.06 2419.27h17.99v4.5h-17.99zM2823.04 2419.27h4.5v4.5h-4.5zM2836.53 2419.27h4.5v4.5h-4.5zM2854.51 2419.27h4.5v4.5h-4.5zM2863.51 2419.27h4.5v4.5h-4.5zM2742.1 2423.77h8.99v4.5h-8.99zM2769.08 2423.77h8.99v4.5h-8.99zM2782.57 2423.77h22.48v4.5h-22.48zM2832.03 2423.77h8.99v4.5h-8.99zM2850.02 2423.77h8.99v4.5h-8.99zM2863.51 2423.77h4.5v4.5h-4.5zM2742.1 2428.26h31.48v4.5h-31.48zM2782.57 2428.26h8.99v4.5h-8.99zM2814.04 2428.26h4.5v4.5h-4.5zM2823.04 2428.26h4.5v4.5h-4.5zM2832.03 2428.26h4.5v4.5h-4.5zM2845.52 2428.26h4.5v4.5h-4.5zM2863.51 2428.26h4.5v4.5h-4.5zM2742.1 2432.76h8.99v4.5h-8.99zM2755.59 2432.76h4.5v4.5h-4.5zM2769.08 2432.76h4.5v4.5h-4.5zM2778.07 2432.76h13.49v4.5h-13.49zM2796.06 2432.76h4.5v4.5h-4.5zM2805.05 2432.76h8.99v4.5h-8.99zM2832.03 2432.76h13.49v4.5h-13.49zM2751.09 2437.26h4.5v4.5h-4.5zM2778.07 2437.26h8.99v4.5h-8.99zM2791.56 2437.26h8.99v4.5h-8.99zM2805.05 2437.26h4.5v4.5h-4.5zM2818.54 2437.26h13.49v4.5h-13.49zM2836.53 2437.26h4.5v4.5h-4.5zM2845.52 2437.26h4.5v4.5h-4.5zM2854.51 2437.26h8.99v4.5h-8.99zM2751.09 2441.75h4.5v4.5h-4.5zM2760.09 2441.75h13.49v4.5h-13.49zM2791.56 2441.75h4.5v4.5h-4.5zM2800.56 2441.75h4.5v4.5h-4.5zM2809.55 2441.75h4.5v4.5h-4.5zM2818.54 2441.75h4.5v4.5h-4.5zM2836.53 2441.75h17.99v4.5h-17.99zM2859.01 2441.75h4.5v4.5h-4.5zM2755.59 2446.25h8.99v4.5h-8.99zM2782.57 2446.25h13.49v4.5h-13.49zM2805.05 2446.25h4.5v4.5h-4.5zM2827.53 2446.25h4.5v4.5h-4.5zM2841.02 2446.25h13.49v4.5h-13.49zM2863.51 2446.25h8.99v4.5h-8.99zM2742.1 2450.74h4.5v4.5h-4.5zM2760.09 2450.74h4.5v4.5h-4.5zM2769.08 2450.74h13.49v4.5h-13.49zM2787.07 2450.74h4.5v4.5h-4.5zM2796.06 2450.74h4.5v4.5h-4.5zM2805.05 2450.74h4.5v4.5h-4.5zM2818.54 2450.74h4.5v4.5h-4.5zM2836.53 2450.74h4.5v4.5h-4.5zM2859.01 2450.74h8.99v4.5h-8.99zM2755.59 2455.24h4.5v4.5h-4.5zM2764.58 2455.24h4.5v4.5h-4.5zM2778.07 2455.24h13.49v4.5h-13.49zM2805.05 2455.24h13.49v4.5h-13.49zM2832.03 2455.24h4.5v4.5h-4.5zM2868 2455.24h4.5v4.5h-4.5zM2742.1 2459.74h4.5v4.5h-4.5zM2760.09 2459.74h13.49v4.5h-13.49zM2778.07 2459.74h4.5v4.5h-4.5zM2787.07 2459.74h4.5v4.5h-4.5zM2800.56 2459.74h26.98v4.5h-26.98zM2836.53 2459.74h4.5v4.5h-4.5zM2854.51 2459.74h13.49v4.5h-13.49zM2778.07 2464.23h8.99v4.5h-8.99zM2791.56 2464.23h4.5v4.5h-4.5zM2800.56 2464.23h13.49v4.5h-13.49zM2818.54 2464.23h13.49v4.5h-13.49zM2841.02 2464.23h4.5v4.5h-4.5zM2859.01 2464.23h4.5v4.5h-4.5zM2868 2464.23h4.5v4.5h-4.5zM2746.6 2468.73h26.98v4.5h-26.98zM2778.07 2468.73h4.5v4.5h-4.5zM2800.56 2468.73h8.99v4.5h-8.99zM2818.54 2468.73h35.97v4.5h-35.97zM2859.01 2468.73h4.5v4.5h-4.5zM2868 2468.73h4.5v4.5h-4.5zM2778.07 2473.23h4.5v4.5h-4.5zM2787.07 2473.23h4.5v4.5h-4.5zM2832.03 2473.23h4.5v4.5h-4.5zM2850.02 2473.23h4.5v4.5h-4.5zM2863.51 2473.23h4.5v4.5h-4.5zM2742.1 2477.72h31.48v4.5h-31.48zM2782.57 2477.72h8.99v4.5h-8.99zM2805.05 2477.72h4.5v4.5h-4.5zM2814.04 2477.72h4.5v4.5h-4.5zM2827.53 2477.72h8.99v4.5h-8.99zM2841.02 2477.72h4.5v4.5h-4.5zM2850.02 2477.72h8.99v4.5h-8.99zM2863.51 2477.72h4.5v4.5h-4.5zM2742.1 2482.22h4.5v4.5h-4.5zM2769.08 2482.22h4.5v4.5h-4.5zM2791.56 2482.22h31.48v4.5h-31.48zM2827.53 2482.22h8.99v4.5h-8.99zM2850.02 2482.22h13.49v4.5h-13.49zM2742.1 2486.72h4.5v4.5h-4.5zM2751.09 2486.72h13.49v4.5h-13.49zM2769.08 2486.72h4.5v4.5h-4.5zM2791.56 2486.72h4.5v4.5h-4.5zM2809.55 2486.72h13.49v4.5h-13.49zM2832.03 2486.72h22.48v4.5h-22.48zM2859.01 2486.72h13.49v4.5h-13.49zM2742.1 2491.21h4.5v4.5h-4.5zM2751.09 2491.21h13.49v4.5h-13.49zM2769.08 2491.21h4.5v4.5h-4.5zM2778.07 2491.21h8.99v4.5h-8.99zM2791.56 2491.21h4.5v4.5h-4.5zM2800.56 2491.21h4.5v4.5h-4.5zM2818.54 2491.21h4.5v4.5h-4.5zM2827.53 2491.21h4.5v4.5h-4.5zM2836.53 2491.21h8.99v4.5h-8.99zM2850.02 2491.21h4.5v4.5h-4.5zM2859.01 2491.21h8.99v4.5h-8.99zM2742.1 2495.71h4.5v4.5h-4.5zM2751.09 2495.71h13.49v4.5h-13.49zM2769.08 2495.71h4.5v4.5h-4.5zM2778.07 2495.71h4.5v4.5h-4.5zM2787.07 2495.71h4.5v4.5h-4.5zM2796.06 2495.71h4.5v4.5h-4.5zM2805.05 2495.71h4.5v4.5h-4.5zM2818.54 2495.71h4.5v4.5h-4.5zM2845.52 2495.71h17.99v4.5h-17.99zM2868 2495.71h4.5v4.5h-4.5zM2742.1 2500.21h4.5v4.5h-4.5zM2769.08 2500.21h4.5v4.5h-4.5zM2778.07 2500.21h8.99v4.5h-8.99zM2796.06 2500.21h8.99v4.5h-8.99zM2827.53 2500.21h8.99v4.5h-8.99zM2854.51 2500.21h4.5v4.5h-4.5zM2868 2500.21h4.5v4.5h-4.5zM2742.1 2504.7h31.48v4.5h-31.48zM2778.07 2504.7h4.5v4.5h-4.5zM2791.56 2504.7h4.5v4.5h-4.5zM2818.54 2504.7h4.5v4.5h-4.5zM2827.53 2504.7h4.5v4.5h-4.5zM2841.02 2504.7h8.99v4.5h-8.99zM2854.51 2504.7h4.5v4.5h-4.5zM2863.51 2504.7h4.5v4.5h-4.5z"/>
<path fill="#000" shape-rendering="crispEdges" d="M3374.7 2133.3h34.81v4.97h-34.81zM3424.42 2133.3h4.97v4.97h-4.97zM3434.37 2133.3h19.89v4.97h-19.89zM3464.2 2133.3h14.92v4.97h-14.92zM3484.09 2133.3h34.81v4.97h-34.81zM3374.7 2138.27h4.97v4.97h-4.97zM3404.53 2138.27h4.97v4.97h-4.97zM3414.48 2138.27h4.97v4.97h-4.97zM3424.42 2138.27h4.97v4.97h-4.97zM3439.34 2138.27h29.83v4.97h-29.83zM3484.09 2138.27h4.97v4.97h-4.97zM3513.93 2138.27h4.97v4.97h-4.97zM3374.7 2143.24h4.97v4.97h-4.97zM3384.64 2143.24h14.92v4.97h-14.92zM3404.53 2143.24h4.97v4.97h-4.97zM3434.37 2143.24h9.94v4.97h-9.94zM3449.29 2143.24h4.97v4.97h-4.97zM3459.23 2143.24h19.89v4.97h-19.89zM3484.09 2143.24h4.97v4.97h-4.97zM3494.04 2143.24h14.92v4.97h-14.92zM3513.93 2143.24h4.97v4.97h-4.97zM3374.7 2148.22h4.97v4.97h-4.97zM3384.64 2148.22h14.92v4.97h-14.92zM3404.53 2148.22h4.97v4.97h-4.97zM3414.48 2148.22h14.92v4.97h-14.92zM3434.37 2148.22h4.97v4.97h-4.97zM3444.31 2148.22h9.94v4.97h-9.94zM3459.23 2148.22h4.97v4.97h-4.97zM3484.09 2148.22h4.97v4.97h-4.97zM3494.04 2148.22h14.92v4.97h-14.92zM3513.93 2148.22h4.97v4.97h-4.97zM3374.7 2153.19h4.97v4.97h-4.97zM3384.64 2153.19h14.92v4.97h-14.92zM3404.53 2153.19h4.97v4.97h-4.97zM3419.45 2153.19h4.97v4.97h-4.97zM3449.29 2153.19h9.94v4.97h-9.94zM3474.15 2153.19h4.97v4.97h-4.97zM3484.09 2153.19h4.97v4.97h-4.97zM3494.04 2153.19h14.92v4.97h-14.92zM3513.93 2153.19h4.97v4.97h-4.97zM3374.7 2158.16h4.97v4.97h-4.97zM3404.53 2158.16h4.97v4.97h-4.97zM3414.48 2158.16h9.94v4.97h-9.94zM3429.4 2158.16h9.94v4.97h-9.94zM3459.23 2158.16h9.94v4.97h-9.94zM3484.09 2158.16h4.97v4.97h-4.97zM3513.93 2158.16h4.97v4.97h-4.97zM3374.7 2163.13h34.81v4.97h-34.81zM3414.48 2163.13h4.97v4.97h-4.97zM3424.42 2163.13h4.97v4.97h-4.97zM3434.37 2163.13h4.97v4.97h-4.97zM3444.31 2163.13h4.97v4.97h-4.97zM3454.26 2163.13h4.97v4.97h-4.97zM3464.2 2163.13h4.97v4.97h-4.97zM3474.15 2163.13h4.97v4.97h-4.97zM3484.09 2163.13h34.81v4.97h-34.81zM3419.45 2168.11h14.92v4.97h-14.92zM3444.31 2168.11h4.97v4.97h-4.97zM3454.26 2168.11h4.97v4.97h-4.97zM3469.18 2168.11h9.94v4.97h-9.94zM3374.7 2173.08h24.86v4.97h-24.86zM3404.53 2173.08h19.89v4.97h-19.89zM3429.4 2173.08h4.97v4.97h-4.97zM3459.23 2173.08h9.94v4.97h-9.94zM3479.12 2173.08h4.97v4.97h-4.97zM3489.07 2173.08h4.97v4.97h-4.97zM3499.01 2173.08h4.97v4.97h-4.97zM3508.96 2173.08h4.97v4.97h-4.97zM3374.7 2178.05h4.97v4.97h-4.97zM3384.64 2178.05h14.92v4.97h-14.92zM3424.42 2178.05h4.97v4.97h-4.97zM3434.37 2178.05h19.89v4.97h-19.89zM3459.23 2178.05h4.97v4.97h-4.97zM3479.12 2178.05h4.97v4.97h-4.97zM3499.01 2178.05h4.97v4.97h-4.97zM3508.96 2178.05h4.97v4.97h-4.97zM3384.64 2183.02h9.94v4.97h-9.94zM3399.56 2183.02h14.92v4.97h-14.92zM3424.42 2183.02h4.97v4.97h-4.97zM3439.34 2183.02h14.92v4.97h-14.92zM3459.23 2183.02h9.94v4.97h-9.94zM3474.15 2183.02h4.97v4.97h-4.97zM3489.07 2183.02h4.97v4.97h-4.97zM3499.01 2183.02h9.94v4.97h-9.94zM3379.67 2188h9.94v4.97h-9.94zM3394.59 2188h4.97v4.97h-4.97zM3414.48 2188h4.97v4.97h-4.97zM3434.37 2188h9.94v4.97h-9.94zM3449.29 2188h4.97v4.97h-4.97zM3469.18 2188h34.81v4.97h-34.81zM3513.93 2188h4.97v4.97h-4.97zM3384.64 2192.97h9.94v4.97h-9.94zM3404.53 2192.97h9.94v4.97h-9.94zM3419.45 2192.97h9.94v4.97h-9.94zM3434.37 2192.97h4.97v4.97h-4.97zM3444.31 2192.97h9.94v4.97h-9.94zM3474.15 2192.97h14.92v4.97h-14.92zM3379.67 2197.94h24.86v4.97h-24.86zM3414.48 2197.94h9.94v4.97h-9.94zM3449.29 2197.94h4.97v4.97h-4.97zM3469.18 2197.94h9.94v4.97h-9.94zM3494.04 2197.94h9.94v4.97h-9.94zM3508.96 2197.94h4.97v4.97h-4.97zM3374.7 2202.91h4.97v4.97h-4.97zM3384.64 2202.91h9.94v4.97h-9.94zM3399.56 2202.91h19.89v4.97h-19.89zM3429.4 2202.91h9.94v4.97h-9.94zM3454.26 2202.91h19.89v4.97h-19.89zM3489.07 2202.91h4.97v4.97h-4.97zM3499.01 2202.91h19.89v4.97h-19.89zM3389.62 2207.89h14.92v4.97h-14.92zM3409.51 2207.89h24.86v4.97h-24.86zM3444.31 2207.89h4.97v4.97h-4.97zM3469.18 2207.89h4.97v4.97h-4.97zM3484.09 2207.89h14.92v4.97h-14.92zM3508.96 2207.89h9.94v4.97h-9.94zM3379.67 2212.86h9.94v4.97h-9.94zM3394.59 2212.86h19.89v4.97h-19.89zM3429.4 2212.86h4.97v4.97h-4.97zM3449.29 2212.86h4.97v4.97h-4.97zM3464.2 2212.86h4.97v4.97h-4.97zM3474.15 2212.86h4.97v4.97h-4.97zM3489.07 2212.86h9.94v4.97h-9.94zM3374.7 2217.83h9.94v4.97h-9.94zM3399.56 2217.83h4.97v4.97h-4.97zM3409.51 2217.83h19.89v4.97h-19.89zM3434.37 2217.83h14.92v4.97h-14.92zM3464.2 2217.83h24.86v4.97h-24.86zM3494.04 2217.83h9.94v4.97h-9.94zM3508.96 2217.83h4.97v4.97h-4.97zM3374.7 2222.8h4.97v4.97h-4.97zM3384.64 2222.8h14.92v4.97h-14.92zM3404.53 2222.8h4.97v4.97h-4.97zM3414.48 2222.8h9.94v4.97h-9.94zM3439.34 2222.8h29.83v4.97h-29.83zM3479.12 2222.8h4.97v4.97h-4.97zM3499.01 2222.8h14.92v4.97h-14.92zM3374.7 2227.78h4.97v4.97h-4.97zM3394.59 2227.78h9.94v4.97h-9.94zM3409.51 2227.78h9.94v4.97h-9.94zM3434.37 2227.78h9.94v4.97h-9.94zM3469.18 2227.78h29.83v4.97h-29.83zM3508.96 2227.78h9.94v4.97h-9.94zM3374.7 2232.75h4.97v4.97h-4.97zM3384.64 2232.75h4.97v4.97h-4.97zM3394.59 2232.75h4.97v4.97h-4.97zM3404.53 2232.75h9.94v4.97h-9.94zM3419.45 2232.75h4.97v4.97h-4.97zM3434.37 2232.75h4.97v4.97h-4.97zM3444.31 2232.75h24.86v4.97h-24.86zM3474.15 2232.75h39.78v4.97h-39.78zM3414.48 2237.72h14.92v4.97h-14.92zM3474.15 2237.72h4.97v4.97h-4.97zM3494.04 2237.72h4.97v4.97h-4.97zM3508.96 2237.72h4.97v4.97h-4.97zM3374.7 2242.69h34.81v4.97h-34.81zM3414.48 2242.69h4.97v4.97h-4.97zM3424.42 2242.69h14.92v4.97h-14.92zM3449.29 2242.69h29.83v4.97h-29.83zM3484.09 2242.69h4.97v4.97h-4.97zM3494.04 2242.69h14.92v4.97h-14.92zM3374.7 2247.67h4.97v4.97h-4.97zM3404.53 2247.67h4.97v4.97h-4.97zM3419.45 2247.67h14.92v4.97h-14.92zM3444.31 2247.67h4.97v4.97h-4.97zM3459.23 2247.67h9.94v4.97h-9.94zM3474.15 2247.67h4.97v4.97h-4.97zM3494.04 2247.67h4.97v4.97h-4.97zM3503.98 2247.67h14.92v4.97h-14.92zM3374.7 2252.64h4.97v4.97h-4.97zM3384.64 2252.64h14.92v4.97h-14.92zM3404.53 2252.64h4.97v4.97h-4.97zM3414.48 2252.64h4.97v4.97h-4.97zM3429.4 2252.64h4.97v4.97h-4.97zM3449.29 2252.64h14.92v4.97h-14.92zM3469.18 2252.64h29.83v4.97h-29.83zM3503.98 2252.64h14.92v4.97h-14.92zM3374.7 2257.61h4.97v4.97h-4.97zM3384.64 2257.61h14.92v4.97h-14.92zM3404.53 2257.61h4.97v4.97h-4.97zM3414.48 2257.61h14.92v4.97h-14.92zM3434.37 2257.61h19.89v4.97h-19.89zM3464.2 2257.61h14.92v4.97h-14.92zM3484.09 2257.61h9.94v4.97h-9.94zM3374.7 2262.58h4.97v4.97h-4.97zM3384.64 2262.58h14.92v4.97h-14.92zM3404.53 2262.58h4.97v4.97h-4.97zM3414.48 2262.58h14.92v4.97h-14.92zM3439.34 2262.58h34.81v4.97h-34.81zM3479.12 2262.58h14.92v4.97h-14.92zM3503.98 2262.58h9.94v4.97h-9.94zM3374.7 2267.56h4.97v4.97h-4.97zM3404.53 2267.56h4.97v4.97h-4.97zM3414.48 2267.56h4.97v4.97h-4.97zM3434.37 2267.56h9.94v4.97h-9.94zM3469.18 2267.56h9.94v4.97h-9.94zM3499.01 2267.56h9.94v4.97h-9.94zM3513.93 2267.56h4.97v4.97h-4.97zM3374.7 2272.53h34.81v4.97h-34.81zM3414.48 2272.53h4.97v4.97h-4.97zM3434.37 2272.53h4.97v4.97h-4.97zM3444.31 2272.53h9.94v4.97h-9.94zM3464.2 2272.53h24.86v4.97h-24.86zM3494.04 2272.53h14.92v4.97h-14.92z"/>
<path fill="#000" shape-rendering="crispEdges" d="M3738.3 2134.1h35.36v5.05h-35.36zM3793.87 2134.1h20.21v5.05h-20.21zM3819.13 2134.1h10.1v5.05h-10.1zM3834.28 2134.1h10.1v5.05h-10.1zM3849.44 2134.1h35.36v5.05h-35.36zM3738.3 2139.15h5.05v5.05h-5.05zM3768.61 2139.15h5.05v5.05h-5.05zM3783.77 2139.15h10.1v5.05h-10.1zM3803.97 2139.15h10.1v5.05h-10.1zM3824.18 2139.15h5.05v5.05h-5.05zM3849.44 2139.15h5.05v5.05h-5.05zM3879.75 2139.15h5.05v5.05h-5.05zM3738.3 2144.2h5.05v5.05h-5.05zM3748.4 2144.2h15.16v5.05h-15.16zM3768.61 2144.2h5.05v5.05h-5.05zM3798.92 2144.2h5.05v5.05h-5.05zM3819.13 2144.2h25.26v5.05h-25.26zM3849.44 2144.2h5.05v5.05h-5.05zM3859.54 2144.2h15.16v5.05h-15.16zM3879.75 2144.2h5.05v5.05h-5.05zM3738.3 2149.26h5.05v5.05h-5.05zM3748.4 2149.26h15.16v5.05h-15.16zM3768.61 2149.26h5.05v5.05h-5.05zM3778.71 2149.26h5.05v5.05h-5.05zM3798.92 2149.26h15.16v5.05h-15.16zM3829.23 2149.26h5.05v5.05h-5.05zM3849.44 2149.26h5.05v5.05h-5.05zM3859.54 2149.26h15.16v5.05h-15.16zM3879.75 2149.26h5.05v5.05h-5.05zM3738.3 2154.31h5.05v5.05h-5.05zM3748.4 2154.31h15.16v5.05h-15.16zM3768.61 2154.31h5.05v5.05h-5.05zM3778.71 2154.31h10.1v5.05h-10.1zM3814.08 2154.31h10.1v5.05h-10.1zM3834.28 2154.31h5.05v5.05h-5.05zM3849.44 2154.31h5.05v5.05h-5.05zM3859.54 2154.31h15.16v5.05h-15.16zM3879.75 2154.31h5.05v5.05h-5.05zM3738.3 2159.36h5.05v5.05h-5.05zM3768.61 2159.36h5.05v5.05h-5.05zM3793.87 2159.36h20.21v5.05h-20.21zM3819.13 2159.36h10.1v5.05h-10.1zM3839.33 2159.36h5.05v5.05h-5.05zM3849.44 2159.36h5.05v5.05h-5.05zM3879.75 2159.36h5.05v5.05h-5.05zM3738.3 2164.41h35.36v5.05h-35.36zM3778.71 2164.41h5.05v5.05h-5.05zM3788.82 2164.41h5.05v5.05h-5.05zM3798.92 2164.41h5.05v5.05h-5.05zM3809.02 2164.41h5.05v5.05h-5.05zM3819.13 2164.41h5.05v5.05h-5.05zM3829.23 2164.41h5.05v5.05h-5.05zM3839.33 2164.41h5.05v5.05h-5.05zM3849.44 2164.41h35.36v5.05h-35.36zM3788.82 2169.46h10.1v5.05h-10.1zM3803.97 2169.46h5.05v5.05h-5.05zM3814.08 2169.46h30.31v5.05h-30.31zM3738.3 2174.51h10.1v5.05h-10.1zM3763.56 2174.51h15.16v5.05h-15.16zM3783.77 2174.51h5.05v5.05h-5.05zM3793.87 2174.51h5.05v5.05h-5.05zM3809.02 2174.51h10.1v5.05h-10.1zM3839.33 2174.51h5.05v5.05h-5.05zM3859.54 2174.51h10.1v5.05h-10.1zM3743.35 2179.57h5.05v5.05h-5.05zM3753.46 2179.57h15.16v5.05h-15.16zM3773.66 2179.57h5.05v5.05h-5.05zM3783.77 2179.57h5.05v5.05h-5.05zM3798.92 2179.57h5.05v5.05h-5.05zM3809.02 2179.57h15.16v5.05h-15.16zM3829.23 2179.57h10.1v5.05h-10.1zM3849.44 2179.57h25.26v5.05h-25.26zM3879.75 2179.57h5.05v5.05h-5.05zM3738.3 2184.62h5.05v5.05h-5.05zM3753.46 2184.62h10.1v5.05h-10.1zM3768.61 2184.62h5.05v5.05h-5.05zM3788.82 2184.62h5.05v5.05h-5.05zM3803.97 2184.62h15.16v5.05h-15.16zM3824.18 2184.62h15.16v5.05h-15.16zM3854.49 2184.62h5.05v5.05h-5.05zM3864.59 2184.62h10.1v5.05h-10.1zM3738.3 2189.67h5.05v5.05h-5.05zM3748.4 2189.67h5.05v5.05h-5.05zM3773.66 2189.67h15.16v5.05h-15.16zM3798.92 2189.67h5.05v5.05h-5.05zM3814.08 2189.67h25.26v5.05h-25.26zM3849.44 2189.67h20.21v5.05h-20.21zM3874.7 2189.67h10.1v5.05h-10.1zM3738.3 2194.72h5.05v5.05h-5.05zM3758.51 2194.72h5.05v5.05h-5.05zM3768.61 2194.72h5.05v5.05h-5.05zM3783.77 2194.72h5.05v5.05h-5.05zM3793.87 2194.72h15.16v5.05h-15.16zM3814.08 2194.72h5.05v5.05h-5.05zM3824.18 2194.72h5.05v5.05h-5.05zM3834.28 2194.72h5.05v5.05h-5.05zM3844.39 2194.72h5.05v5.05h-5.05zM3859.54 2194.72h15.16v5.05h-15.16zM3879.75 2194.72h5.05v5.05h-5.05zM3738.3 2199.77h5.05v5.05h-5.05zM3753.46 2199.77h5.05v5.05h-5.05zM3773.66 2199.77h15.16v5.05h-15.16zM3809.02 2199.77h5.05v5.05h-5.05zM3819.13 2199.77h5.05v5.05h-5.05zM3839.33 2199.77h5.05v5.05h-5.05zM3864.59 2199.77h5.05v5.05h-5.05zM3738.3 2204.82h5.05v5.05h-5.05zM3748.4 2204.82h10.1v5.05h-10.1zM3768.61 2204.82h5.05v5.05h-5.05zM3778.71 2204.82h10.1v5.05h-10.1zM3793.87 2204.82h10.1v5.05h-10.1zM3824.18 2204.82h5.05v5.05h-5.05zM3834.28 2204.82h5.05v5.05h-5.05zM3864.59 2204.82h20.21v5.05h-20.21zM3738.3 2209.88h5.05v5.05h-5.05zM3748.4 2209.88h10.1v5.05h-10.1zM3763.56 2209.88h5.05v5.05h-5.05zM3783.77 2209.88h15.16v5.05h-15.16zM3809.02 2209.88h15.16v5.05h-15.16zM3834.28 2209.88h5.05v5.05h-5.05zM3844.39 2209.88h5.05v5.05h-5.05zM3854.49 2209.88h10.1v5.05h-10.1zM3869.64 2209.88h5.05v5.05h-5.05zM3753.46 2214.93h20.21v5.05h-20.21zM3788.82 2214.93h10.1v5.05h-10.1zM3814.08 2214.93h20.21v5.05h-20.21zM3839.33 2214.93h5.05v5.05h-5.05zM3854.49 2214.93h5.05v5.05h-5.05zM3738.3 2219.98h10.1v5.05h-10.1zM3763.56 2219.98h5.05v5.05h-5.05zM3773.66 2219.98h10.1v5.05h-10.1zM3798.92 2219.98h10.1v5.05h-10.1zM3814.08 2219.98h10.1v5.05h-10.1zM3834.28 2219.98h15.16v5.05h-15.16zM3854.49 2219.98h15.16v5.05h-15.16zM3879.75 2219.98h5.05v5.05h-5.05zM3738.3 2225.03h15.16v5.05h-15.16zM3768.61 2225.03h5.05v5.05h-5.05zM3793.87 2225.03h5.05v5.05h-5.05zM3819.13 2225.03h5.05v5.05h-5.05zM3839.33 2225.03h5.05v5.05h-5.05zM3849.44 2225.03h10.1v5.05h-10.1zM3879.75 2225.03h5.05v5.05h-5.05zM3738.3 2230.08h5.05v5.05h-5.05zM3753.46 2230.08h10.1v5.05h-10.1zM3788.82 2230.08h5.05v5.05h-5.05zM3798.92 2230.08h10.1v5.05h-10.1zM3814.08 2230.08h10.1v5.05h-10.1zM3829.23 2230.08h15.16v5.05h-15.16zM3849.44 2230.08h15.16v5.05h-15.16zM3879.75 2230.08h5.05v5.05h-5.05zM3738.3 2235.13h5.05v5.05h-5.05zM3748.4 2235.13h5.05v5.05h-5.05zM3758.51 2235.13h5.05v5.05h-5.05zM3768.61 2235.13h10.1v5.05h-10.1zM3788.82 2235.13h5.05v5.05h-5.05zM3798.92 2235.13h5.05v5.05h-5.05zM3809.02 2235.13h10.1v5.05h-10.1zM3824.18 2235.13h5.05v5.05h-5.05zM3839.33 2235.13h40.41v5.05h-40.41zM3778.71 2240.19h15.16v5.05h-15.16zM3809.02 2240.19h15.16v5.05h-15.16zM3834.28 2240.19h10.1v5.05h-10.1zM3859.54 2240.19h5.05v5.05h-5.05zM3869.64 2240.19h5.05v5.05h-5.05zM3879.75 2240.19h5.05v5.05h-5.05zM3738.3 2245.24h35.36v5.05h-35.36zM3778.71 2245.24h5.05v5.05h-5.05zM3793.87 2245.24h10.1v5.05h-10.1zM3814.08 2245.24h30.31v5.05h-30.31zM3849.44 2245.24h5.05v5.05h-5.05zM3859.54 2245.24h15.16v5.05h-15.16zM3738.3 2250.29h5.05v5.05h-5.05zM3768.61 2250.29h5.05v5.05h-5.05zM3778.71 2250.29h5.05v5.05h-5.05zM3788.82 2250.29h10.1v5.05h-10.1zM3809.02 2250.29h25.26v5.05h-25.26zM3839.33 2250.29h5.05v5.05h-5.05zM3859.54 2250.29h5.05v5.05h-5.05zM3869.64 2250.29h5.05v5.05h-5.05zM3879.75 2250.29h5.05v5.05h-5.05zM3738.3 2255.34h5.05v5.05h-5.05zM3748.4 2255.34h15.16v5.05h-15.16zM3768.61 2255.34h5.05v5.05h-5.05zM3783.77 2255.34h10.1v5.05h-10.1zM3803.97 2255.34h15.16v5.05h-15.16zM3834.28 2255.34h35.36v5.05h-35.36zM3874.7 2255.34h5.05v5.05h-5.05zM3738.3 2260.39h5.05v5.05h-5.05zM3748.4 2260.39h15.16v5.05h-15.16zM3768.61 2260.39h5.05v5.05h-5.05zM3783.77 2260.39h5.05v5.05h-5.05zM3798.92 2260.39h15.16v5.05h-15.16zM3819.13 2260.39h5.05v5.05h-5.05zM3839.33 2260.39h5.05v5.05h-5.05zM3854.49 2260.39h5.05v5.05h-5.05zM3874.7 2260.39h5.05v5.05h-5.05zM3738.3 2265.44h5.05v5.05h-5.05zM3748.4 2265.44h15.16v5.05h-15.16zM3768.61 2265.44h5.05v5.05h-5.05zM3783.77 2265.44h5.05v5.05h-5.05zM3803.97 2265.44h15.16v5.05h-15.16zM3824.18 2265.44h5.05v5.05h-5.05zM3834.28 2265.44h5.05v5.05h-5.05zM3844.39 2265.44h15.16v5.05h-15.16zM3869.64 2265.44h10.1v5.05h-10.1zM3738.3 2270.5h5.05v5.05h-5.05zM3768.61 2270.5h5.05v5.05h-5.05zM3778.71 2270.5h5.05v5.05h-5.05zM3798.92 2270.5h20.21v5.05h-20.21zM3824.18 2270.5h5.05v5.05h-5.05zM3849.44 2270.5h5.05v5.05h-5.05zM3864.59 2270.5h5.05v5.05h-5.05zM3874.7 2270.5h5.05v5.05h-5.05zM3738.3 2275.55h35.36v5.05h-35.36zM3778.71 2275.55h10.1v5.05h-10.1zM3798.92 2275.55h5.05v5.05h-5.05zM3809.02 2275.55h10.1v5.05h-10.1zM3824.18 2275.55h30.31v5.05h-30.31zM3859.54 2275.55h15.16v5.05h-15.16z"/>
<path fill="#000" shape-rendering="crispEdges" d="M3376.95 2353.4h35.12v5.02h-35.12zM3417.09 2353.4h5.02v5.02h-5.02zM3427.12 2353.4h5.02v5.02h-5.02zM3437.16 2353.4h5.02v5.02h-5.02zM3457.23 2353.4h5.02v5.02h-5.02zM3472.28 2353.4h5.02v5.02h-5.02zM3487.33 2353.4h35.12v5.02h-35.12zM3376.95 2358.42h5.02v5.02h-5.02zM3407.05 2358.42h5.02v5.02h-5.02zM3422.11 2358.42h35.12v5.02h-35.12zM3467.26 2358.42h5.02v5.02h-5.02zM3477.29 2358.42h5.02v5.02h-5.02zM3487.33 2358.42h5.02v5.02h-5.02zM3517.43 2358.42h5.02v5.02h-5.02zM3376.95 2363.43h5.02v5.02h-5.02zM3386.98 2363.43h15.05v5.02h-15.05zM3407.05 2363.43h5.02v5.02h-5.02zM3417.09 2363.43h15.05v5.02h-15.05zM3442.17 2363.43h25.09v5.02h-25.09zM3477.29 2363.43h5.02v5.02h-5.02zM3487.33 2363.43h5.02v5.02h-5.02zM3497.36 2363.43h15.05v5.02h-15.05zM3517.43 2363.43h5.02v5.02h-5.02zM3376.95 2368.45h5.02v5.02h-5.02zM3386.98 2368.45h15.05v5.02h-15.05zM3407.05 2368.45h5.02v5.02h-5.02zM3417.09 2368.45h15.05v5.02h-15.05zM3437.16 2368.45h5.02v5.02h-5.02zM3452.21 2368.45h15.05v5.02h-15.05zM3487.33 2368.45h5.02v5.02h-5.02zM3497.36 2368.45h15.05v5.02h-15.05zM3517.43 2368.45h5.02v5.02h-5.02zM3376.95 2373.47h5.02v5.02h-5.02zM3386.98 2373.47h15.05v5.02h-15.05zM3407.05 2373.47h5.02v5.02h-5.02zM3417.09 2373.47h5.02v5.02h-5.02zM3432.14 2373.47h10.03v5.02h-10.03zM3447.19 2373.47h10.03v5.02h-10.03zM3462.24 2373.47h15.05v5.02h-15.05zM3487.33 2373.47h5.02v5.02h-5.02zM3497.36 2373.47h15.05v5.02h-15.05zM3517.43 2373.47h5.02v5.02h-5.02zM3376.95 2378.49h5.02v5.02h-5.02zM3407.05 2378.49h5.02v5.02h-5.02zM3427.12 2378.49h10.03v5.02h-10.03zM3462.24 2378.49h5.02v5.02h-5.02zM3487.33 2378.49h5.02v5.02h-5.02zM3517.43 2378.49h5.02v5.02h-5.02zM3376.95 2383.5h35.12v5.02h-35.12zM3417.09 2383.5h5.02v5.02h-5.02zM3427.12 2383.5h5.02v5.02h-5.02zM3437.16 2383.5h5.02v5.02h-5.02zM3447.19 2383.5h5.02v5.02h-5.02zM3457.23 2383.5h5.02v5.02h-5.02zM3467.26 2383.5h5.02v5.02h-5.02zM3477.29 2383.5h5.02v5.02h-5.02zM3487.33 2383.5h35.12v5.02h-35.12zM3427.12 2388.52h5.02v5.02h-5.02zM3437.16 2388.52h5.02v5.02h-5.02zM3452.21 2388.52h5.02v5.02h-5.02zM3472.28 2388.52h10.03v5.02h-10.03zM3376.95 2393.54h20.07v5.02h-20.07zM3407.05 2393.54h5.02v5.02h-5.02zM3417.09 2393.54h5.02v5.02h-5.02zM3427.12 2393.54h20.07v5.02h-20.07zM3457.23 2393.54h30.1v5.02h-30.1zM3497.36 2393.54h15.05v5.02h-15.05zM3517.43 2393.54h5.02v5.02h-5.02zM3386.98 2398.56h5.02v5.02h-5.02zM3397.02 2398.56h10.03v5.02h-10.03zM3412.07 2398.56h5.02v5.02h-5.02zM3427.12 2398.56h5.02v5.02h-5.02zM3437.16 2398.56h5.02v5.02h-5.02zM3447.19 2398.56h10.03v5.02h-10.03zM3477.29 2398.56h5.02v5.02h-5.02zM3487.33 2398.56h20.07v5.02h-20.07zM3512.42 2398.56h5.02v5.02h-5.02zM3381.97 2403.57h5.02v5.02h-5.02zM3407.05 2403.57h5.02v5.02h-5.02zM3417.09 2403.57h35.12v5.02h-35.12zM3457.23 2403.57h5.02v5.02h-5.02zM3467.26 2403.57h5.02v5.02h-5.02zM3477.29 2403.57h10.03v5.02h-10.03zM3492.35 2403.57h15.05v5.02h-15.05zM3512.42 2403.57h5.02v5.02h-5.02zM3376.95 2408.59h5.02v5.02h-5.02zM3392 2408.59h5.02v5.02h-5.02zM3412.07 2408.59h5.02v5.02h-5.02zM3422.11 2408.59h10.03v5.02h-10.03zM3442.17 2408.59h20.07v5.02h-20.07zM3467.26 2408.59h5.02v5.02h-5.02zM3477.29 2408.59h5.02v5.02h-5.02zM3492.35 2408.59h5.02v5.02h-5.02zM3512.42 2408.59h5.02v5.02h-5.02zM3381.97 2413.61h10.03v5.02h-10.03zM3397.02 2413.61h5.02v5.02h-5.02zM3407.05 2413.61h5.02v5.02h-5.02zM3417.09 2413.61h15.05v5.02h-15.05zM3437.16 2413.61h10.03v5.02h-10.03zM3452.21 2413.61h10.03v5.02h-10.03zM3467.26 2413.61h5.02v5.02h-5.02zM3477.29 2413.61h5.02v5.02h-5.02zM3492.35 2413.61h10.03v5.02h-10.03zM3376.95 2418.62h5.02v5.02h-5.02zM3386.98 2418.62h5.02v5.02h-5.02zM3417.09 2418.62h5.02v5.02h-5.02zM3432.14 2418.62h10.03v5.02h-10.03zM3457.23 2418.62h10.03v5.02h-10.03zM3472.28 2418.62h20.07v5.02h-20.07zM3502.38 2418.62h10.03v5.02h-10.03zM3386.98 2423.64h5.02v5.02h-5.02zM3397.02 2423.64h5.02v5.02h-5.02zM3407.05 2423.64h20.07v5.02h-20.07zM3432.14 2423.64h5.02v5.02h-5.02zM3462.24 2423.64h15.05v5.02h-15.05zM3482.31 2423.64h20.07v5.02h-20.07zM3507.4 2423.64h5.02v5.02h-5.02zM3376.95 2428.66h10.03v5.02h-10.03zM3417.09 2428.66h20.07v5.02h-20.07zM3447.19 2428.66h5.02v5.02h-5.02zM3467.26 2428.66h35.12v5.02h-35.12zM3512.42 2428.66h10.03v5.02h-10.03zM3376.95 2433.68h15.05v5.02h-15.05zM3397.02 2433.68h15.05v5.02h-15.05zM3417.09 2433.68h15.05v5.02h-15.05zM3437.16 2433.68h15.05v5.02h-15.05zM3462.24 2433.68h5.02v5.02h-5.02zM3487.33 2433.68h10.03v5.02h-10.03zM3507.4 2433.68h10.03v5.02h-10.03zM3392 2438.69h10.03v5.02h-10.03zM3427.12 2438.69h5.02v5.02h-5.02zM3442.17 2438.69h5.02v5.02h-5.02zM3452.21 2438.69h10.03v5.02h-10.03zM3467.26 2438.69h10.03v5.02h-10.03zM3482.31 2438.69h10.03v5.02h-10.03zM3497.36 2438.69h5.02v5.02h-5.02zM3517.43 2438.69h5.02v5.02h-5.02zM3376.95 2443.71h5.02v5.02h-5.02zM3386.98 2443.71h10.03v5.02h-10.03zM3407.05 2443.71h5.02v5.02h-5.02zM3422.11 2443.71h5.02v5.02h-5.02zM3442.17 2443.71h5.02v5.02h-5.02zM3452.21 2443.71h15.05v5.02h-15.05zM3502.38 2443.71h20.07v5.02h-20.07zM3397.02 2448.73h10.03v5.02h-10.03zM3422.11 2448.73h15.05v5.02h-15.05zM3442.17 2448.73h5.02v5.02h-5.02zM3452.21 2448.73h5.02v5.02h-5.02zM3462.24 2448.73h15.05v5.02h-15.05zM3487.33 2448.73h5.02v5.02h-5.02zM3507.4 2448.73h5.02v5.02h-5.02zM3517.43 2448.73h5.02v5.02h-5.02zM3381.97 2453.74h10.03v5.02h-10.03zM3402.04 2453.74h10.03v5.02h-10.03zM3417.09 2453.74h5.02v5.02h-5.02zM3427.12 2453.74h5.02v5.02h-5.02zM3442.17 2453.74h5.02v5.02h-5.02zM3472.28 2453.74h30.1v5.02h-30.1zM3507.4 2453.74h5.02v5.02h-5.02zM3517.43 2453.74h5.02v5.02h-5.02zM3417.09 2458.76h5.02v5.02h-5.02zM3457.23 2458.76h5.02v5.02h-5.02zM3467.26 2458.76h5.02v5.02h-5.02zM3477.29 2458.76h5.02v5.02h-5.02zM3497.36 2458.76h5.02v5.02h-5.02zM3512.42 2458.76h5.02v5.02h-5.02zM3376.95 2463.78h35.12v5.02h-35.12zM3422.11 2463.78h5.02v5.02h-5.02zM3447.19 2463.78h10.03v5.02h-10.03zM3467.26 2463.78h15.05v5.02h-15.05zM3487.33 2463.78h5.02v5.02h-5.02zM3497.36 2463.78h10.03v5.02h-10.03zM3512.42 2463.78h5.02v5.02h-5.02zM3376.95 2468.8h5.02v5.02h-5.02zM3407.05 2468.8h5.02v5.02h-5.02zM3432.14 2468.8h15.05v5.02h-15.05zM3452.21 2468.8h10.03v5.02h-10.03zM3477.29 2468.8h5.02v5.02h-5.02zM3497.36 2468.8h15.05v5.02h-15.05zM3376.95 2473.81h5.02v5.02h-5.02zM3386.98 2473.81h15.05v5.02h-15.05zM3407.05 2473.81h5.02v5.02h-5.02zM3427.12 2473.81h10.03v5.02h-10.03zM3452.21 2473.81h10.03v5.02h-10.03zM3477.29 2473.81h25.09v5.02h-25.09zM3507.4 2473.81h15.05v5.02h-15.05zM3376.95 2478.83h5.02v5.02h-5.02zM3386.98 2478.83h15.05v5.02h-15.05zM3407.05 2478.83h5.02v5.02h-5.02zM3417.09 2478.83h5.02v5.02h-5.02zM3432.14 2478.83h5.02v5.02h-5.02zM3442.17 2478.83h15.05v5.02h-15.05zM3462.24 2478.83h10.03v5.02h-10.03zM3482.31 2478.83h10.03v5.02h-10.03zM3497.36 2478.83h5.02v5.02h-5.02zM3507.4 2478.83h10.03v5.02h-10.03zM3376.95 2483.85h5.02v5.02h-5.02zM3386.98 2483.85h15.05v5.02h-15.05zM3407.05 2483.85h5.02v5.02h-5.02zM3417.09 2483.85h5.02v5.02h-5.02zM3437.16 2483.85h5.02v5.02h-5.02zM3447.19 2483.85h5.02v5.02h-5.02zM3462.24 2483.85h10.03v5.02h-10.03zM3492.35 2483.85h20.07v5.02h-20.07zM3517.43 2483.85h5.02v5.02h-5.02zM3376.95 2488.87h5.02v5.02h-5.02zM3407.05 2488.87h5.02v5.02h-5.02zM3417.09 2488.87h5.02v5.02h-5.02zM3427.12 2488.87h5.02v5.02h-5.02zM3437.16 2488.87h10.03v5.02h-10.03zM3457.23 2488.87h5.02v5.02h-5.02zM3472.28 2488.87h10.03v5.02h-10.03zM3502.38 2488.87h10.03v5.02h-10.03zM3517.43 2488.87h5.02v5.02h-5.02zM3376.95 2493.88h35.12v5.02h-35.12zM3417.09 2493.88h5.02v5.02h-5.02zM3432.14 2493.88h5.02v5.02h-5.02zM3472.28 2493.88h10.03v5.02h-10.03zM3487.33 2493.88h10.03v5.02h-10.03zM3502.38 2493.88h5.02v5.02h-5.02zM3512.42 2493.88h5.02v5.02h-5.02z"/>
<g fill="#000"><circle cx="3777.04" cy="2364.04" r="1.82"/><circle cx="3780.92" cy="2364.04" r="1.82"/><circle cx="3788.67" cy="2364.04" r="1.82"/><circle cx="3808.05" cy="2364.04" r="1.82"/><circle cx="3811.92" cy="2364.04" r="1.82"/><circle cx="3823.55" cy="2364.04" r="1.82"/><circle cx="3839.05" cy="2364.04" r="1.82"/><circle cx="3842.93" cy="2364.04" r="1.82"/><circle cx="3846.81" cy="2364.04" r="1.82"/><circle cx="3854.56" cy="2364.04" r="1.82"/><circle cx="3777.04" cy="2367.91" r="1.82"/><circle cx="3780.92" cy="2367.91" r="1.82"/><circle cx="3784.79" cy="2367.91" r="1.82"/><circle cx="3788.67" cy="2367.91" r="1.82"/><circle cx="3804.17" cy="2367.91" r="1.82"/><circle cx="3819.68" cy="2367.91" r="1.82"/><circle cx="3823.55" cy="2367.91" r="1.82"/><circle cx="3827.43" cy="2367.91" r="1.82"/><circle cx="3831.3" cy="2367.91" r="1.82"/><circle cx="3842.93" cy="2367.91" r="1.82"/><circle cx="3780.92" cy="2371.79" r="1.82"/><circle cx="3784.79" cy="2371.79" r="1.82"/><circle cx="3796.42" cy="2371.79" r="1.82"/><circle cx="3804.17" cy="2371.79" r="1.82"/><circle cx="3808.05" cy="2371.79" r="1.82"/><circle cx="3819.68" cy="2371.79" r="1.82"/><circle cx="3831.3" cy="2371.79" r="1.82"/><circle cx="3835.18" cy="2371.79" r="1.82"/><circle cx="3846.81" cy="2371.79" r="1.82"/><circle cx="3850.68" cy="2371.79" r="1.82"/><circle cx="3784.79" cy="2375.66" r="1.82"/><circle cx="3788.67" cy="2375.66" r="1.82"/><circle cx="3804.17" cy="2375.66" r="1.82"/><circle cx="3808.05" cy="2375.66" r="1.82"/><circle cx="3815.8" cy="2375.66" r="1.82"/><circle cx="3819.68" cy="2375.66" r="1.82"/><circle cx="3835.18" cy="2375.66" r="1.82"/><circle cx="3839.05" cy="2375.66" r="1.82"/><circle cx="3854.56" cy="2375.66" r="1.82"/><circle cx="3780.92" cy="2379.54" r="1.82"/><circle cx="3800.3" cy="2379.54" r="1.82"/><circle cx="3808.05" cy="2379.54" r="1.82"/><circle cx="3811.92" cy="2379.54" r="1.82"/><circle cx="3842.93" cy="2379.54" r="1.82"/><circle cx="3846.81" cy="2379.54" r="1.82"/><circle cx="3777.04" cy="2383.42" r="1.82"/><circle cx="3788.67" cy="2383.42" r="1.82"/><circle cx="3792.55" cy="2383.42" r="1.82"/><circle cx="3796.42" cy="2383.42" r="1.82"/><circle cx="3800.3" cy="2383.42" r="1.82"/><circle cx="3804.17" cy="2383.42" r="1.82"/><circle cx="3808.05" cy="2383.42" r="1.82"/><circle cx="3827.43" cy="2383.42" r="1.82"/><circle cx="3835.18" cy="2383.42" r="1.82"/><circle cx="3842.93" cy="2383.42" r="1.82"/><circle cx="3777.04" cy="2387.29" r="1.82"/><circle cx="3784.79" cy="2387.29" r="1.82"/><circle cx="3792.55" cy="2387.29" r="1.82"/><circle cx="3800.3" cy="2387.29" r="1.82"/><circle cx="3808.05" cy="2387.29" r="1.82"/><circle cx="3815.8" cy="2387.29" r="1.82"/><circle cx="3823.55" cy="2387.29" r="1.82"/><circle cx="3831.3" cy="2387.29" r="1.82"/><circle cx="3839.05" cy="2387.29" r="1.82"/><circle cx="3846.81" cy="2387.29" r="1.82"/><circle cx="3854.56" cy="2387.29" r="1.82"/><circle cx="3788.67" cy="2391.17" r="1.82"/><circle cx="3800.3" cy="2391.17" r="1.82"/><circle cx="3808.05" cy="2391.17" r="1.82"/><circle cx="3823.55" cy="2391.17" r="1.82"/><circle cx="3827.43" cy="2391.17" r="1.82"/><circle cx="3835.18" cy="2391.17" r="1.82"/><circle cx="3839.05" cy="2391.17" r="1.82"/><circle cx="3842.93" cy="2391.17" r="1.82"/><circle cx="3846.81" cy="2391.17" r="1.82"/><circle cx="3854.56" cy="2391.17" r="1.82"/><circle cx="3746.04" cy="2395.04" r="1.82"/><circle cx="3749.91" cy="2395.04" r="1.82"/><circle cx="3765.42" cy="2395.04" r="1.82"/><circle cx="3769.29" cy="2395.04" r="1.82"/><circle cx="3784.79" cy="2395.04" r="1.82"/><circle cx="3796.42" cy="2395.04" r="1.82"/><circle cx="3804.17" cy="2395.04" r="1.82"/><circle cx="3811.92" cy="2395.04" r="1.82"/><circle cx="3831.3" cy="2395.04" r="1.82"/><circle cx="3850.68" cy="2395.04" r="1.82"/><circle cx="3858.43" cy="2395.04" r="1.82"/><circle cx="3881.69" cy="2395.04" r="1.82"/><circle cx="3749.91" cy="2398.92" r="1.82"/><circle cx="3761.54" cy="2398.92" r="1.82"/><circle cx="3780.92" cy="2398.92" r="1.82"/><circle cx="3784.79" cy="2398.92" r="1.82"/><circle cx="3792.55" cy="2398.92" r="1.82"/><circle cx="3796.42" cy="2398.92" r="1.82"/><circle cx="3800.3" cy="2398.92" r="1.82"/><circle cx="3808.05" cy="2398.92" r="1.82"/><circle cx="3815.8" cy="2398.92" r="1.82"/><circle cx="3823.55" cy="2398.92" r="1.82"/><circle cx="3842.93" cy="2398.92" r="1.82"/><circle cx="3850.68" cy="2398.92" r="1.82"/><circle cx="3858.43" cy="2398.92" r="1.82"/><circle cx="3862.31" cy="2398.92" r="1.82"/><circle cx="3866.18" cy="2398.92" r="1.82"/><circle cx="3870.06" cy="2398.92" r="1.82"/><circle cx="3877.81" cy="2398.92" r="1.82"/><circle cx="3885.56" cy="2398.92" r="1.82"/><circle cx="3746.04" cy="2402.79" r="1.82"/><circle cx="3761.54" cy="2402.79" r="1.82"/><circle cx="3769.29" cy="2402.79" r="1.82"/><circle cx="3773.17" cy="2402.79" r="1.82"/><circle cx="3777.04" cy="2402.79" r="1.82"/><circle cx="3780.92" cy="2402.79" r="1.82"/><circle cx="3804.17" cy="2402.79" r="1.82"/><circle cx="3808.05" cy="2402.79" r="1.82"/><circle cx="3819.68" cy="2402.79" r="1.82"/><circle cx="3823.55" cy="2402.79" r="1.82"/><circle cx="3827.43" cy="2402.79" r="1.82"/><circle cx="3831.3" cy="2402.79" r="1.82"/><circle cx="3839.05" cy="2402.79" r="1.82"/><circle cx="3842.93" cy="2402.79" r="1.82"/><circle cx="3850.68" cy="2402.79" r="1.82"/><circle cx="3854.56" cy="2402.79" r="1.82"/><circle cx="3862.31" cy="2402.79" r="1.82"/><circle cx="3866.18" cy="2402.79" r="1.82"/><circle cx="3881.69" cy="2402.79" r="1.82"/><circle cx="3749.91" cy="2406.67" r="1.82"/><circle cx="3757.66" cy="2406.67" r="1.82"/><circle cx="3761.54" cy="2406.67" r="1.82"/><circle cx="3765.42" cy="2406.67" r="1.82"/><circle cx="3773.17" cy="2406.67" r="1.82"/><circle cx="3784.79" cy="2406.67" r="1.82"/><circle cx="3788.67" cy="2406.67" r="1.82"/><circle cx="3792.55" cy="2406.67" r="1.82"/><circle cx="3796.42" cy="2406.67" r="1.82"/><circle cx="3811.92" cy="2406.67" r="1.82"/><circle cx="3819.68" cy="2406.67" r="1.82"/><circle cx="3827.43" cy="2406.67" r="1.82"/><circle cx="3846.81" cy="2406.67" r="1.82"/><circle cx="3862.31" cy="2406.67" r="1.82"/><circle cx="3866.18" cy="2406.67" r="1.82"/><circle cx="3873.94" cy="2406.67" r="1.82"/><circle cx="3877.81" cy="2406.67" r="1.82"/><circle cx="3881.69" cy="2406.67" r="1.82"/><circle cx="3885.56" cy="2406.67" r="1.82"/><circle cx="3746.04" cy="2410.55" r="1.82"/><circle cx="3749.91" cy="2410.55" r="1.82"/><circle cx="3757.66" cy="2410.55" r="1.82"/><circle cx="3769.29" cy="2410.55" r="1.82"/><circle cx="3780.92" cy="2410.55" r="1.82"/><circle cx="3788.67" cy="2410.55" r="1.82"/><circle cx="3792.55" cy="2410.55" r="1.82"/><circle cx="3796.42" cy="2410.55" r="1.82"/><circle cx="3800.3" cy="2410.55" r="1.82"/><circle cx="3804.17" cy="2410.55" r="1.82"/><circle cx="3808.05" cy="2410.55" r="1.82"/><circle cx="3811.92" cy="2410.55" r="1.82"/><circle cx="3815.8" cy="2410.55" r="1.82"/><circle cx="3819.68" cy="2410.55" r="1.82"/><circle cx="3823.55" cy="2410.55" r="1.82"/><circle cx="3835.18" cy="2410.55" r="1.82"/><circle cx="3839.05" cy="2410.55" r="1.82"/><circle cx="3850.68" cy="2410.55" r="1.82"/><circle cx="3854.56" cy="2410.55" r="1.82"/><circle cx="3862.31" cy="2410.55" r="1.82"/><circle cx="3870.06" cy="2410.55" r="1.82"/><circle cx="3877.81" cy="2410.55" r="1.82"/><circle cx="3885.56" cy="2410.55" r="1.82"/><circle cx="3749.91" cy="2414.42" r="1.82"/><circle cx="3753.79" cy="2414.42" r="1.82"/><circle cx="3757.66" cy="2414.42" r="1.82"/><circle cx="3773.17" cy="2414.42" r="1.82"/><circle cx="3777.04" cy="2414.42" r="1.82"/><circle cx="3780.92" cy="2414.42" r="1.82"/><circle cx="3839.05" cy="2414.42" r="1.82"/><circle cx="3842.93" cy="2414.42" r="1.82"/><circle cx="3846.81" cy="2414.42" r="1.82"/><circle cx="3850.68" cy="2414.42" r="1.82"/><circle cx="3854.56" cy="2414.42" r="1.82"/><circle cx="3858.43" cy="2414.42" r="1.82"/><circle cx="3746.04" cy="2418.3" r="1.82"/><circle cx="3749.91" cy="2418.3" r="1.82"/><circle cx="3761.54" cy="2418.3" r="1.82"/><circle cx="3769.29" cy="2418.3" r="1.82"/><circle cx="3780.92" cy="2418.3" r="1.82"/><circle cx="3788.67" cy="2418.3" r="1.82"/><circle cx="3842.93" cy="2418.3" r="1.82"/><circle cx="3846.81" cy="2418.3" r="1.82"/><circle cx="3850.68" cy="2418.3" r="1.82"/><circle cx="3862.31" cy="2418.3" r="1.82"/><circle cx="3866.18" cy="2418.3" r="1.82"/><circle cx="3870.06" cy="2418.3" r="1.82"/><circle cx="3749.91" cy="2422.17" r="1.82"/><circle cx="3753.79" cy="2422.17" r="1.82"/><circle cx="3777.04" cy="2422.17" r="1.82"/><circle cx="3780.92" cy="2422.17" r="1.82"/><circle cx="3784.79" cy="2422.17" r="1.82"/><circle cx="3842.93" cy="2422.17" r="1.82"/><circle cx="3850.68" cy="2422.17" r="1.82"/><circle cx="3862.31" cy="2422.17" r="1.82"/><circle cx="3877.81" cy="2422.17" r="1.82"/><circle cx="3881.69" cy="2422.17" r="1.82"/><circle cx="3885.56" cy="2422.17" r="1.82"/><circle cx="3753.79" cy="2426.05" r="1.82"/><circle cx="3765.42" cy="2426.05" r="1.82"/><circle cx="3769.29" cy="2426.05" r="1.82"/><circle cx="3773.17" cy="2426.05" r="1.82"/><circle cx="3780.92" cy="2426.05" r="1.82"/><circle cx="3788.67" cy="2426.05" r="1.82"/><circle cx="3792.55" cy="2426.05" r="1.82"/><circle cx="3839.05" cy="2426.05" r="1.82"/><circle cx="3842.93" cy="2426.05" r="1.82"/><circle cx="3846.81" cy="2426.05" r="1.82"/><circle cx="3862.31" cy="2426.05" r="1.82"/><circle cx="3870.06" cy="2426.05" r="1.82"/><circle cx="3877.81" cy="2426.05" r="1.82"/><circle cx="3746.04" cy="2429.92" r="1.82"/><circle cx="3749.91" cy="2429.92" r="1.82"/><circle cx="3753.79" cy="2429.92" r="1.82"/><circle cx="3761.54" cy="2429.92" r="1.82"/><circle cx="3765.42" cy="2429.92" r="1.82"/><circle cx="3773.17" cy="2429.92" r="1.82"/><circle cx="3777.04" cy="2429.92" r="1.82"/><circle cx="3788.67" cy="2429.92" r="1.82"/><circle cx="3839.05" cy="2429.92" r="1.82"/><circle cx="3850.68" cy="2429.92" r="1.82"/><circle cx="3858.43" cy="2429.92" r="1.82"/><circle cx="3862.31" cy="2429.92" r="1.82"/><circle cx="3873.94" cy="2429.92" r="1.82"/><circle cx="3881.69" cy="2429.92" r="1.82"/><circle cx="3746.04" cy="2433.8" r="1.82"/><circle cx="3749.91" cy="2433.8" r="1.82"/><circle cx="3753.79" cy="2433.8" r="1.82"/><circle cx="3757.66" cy="2433.8" r="1.82"/><circle cx="3761.54" cy="2433.8" r="1.82"/><circle cx="3769.29" cy="2433.8" r="1.82"/><circle cx="3773.17" cy="2433.8" r="1.82"/><circle cx="3777.04" cy="2433.8" r="1.82"/><circle cx="3842.93" cy="2433.8" r="1.82"/><circle cx="3846.81" cy="2433.8" r="1.82"/><circle cx="3854.56" cy="2433.8" r="1.82"/><circle cx="3866.18" cy="2433.8" r="1.82"/><circle cx="3870.06" cy="2433.8" r="1.82"/><circle cx="3877.81" cy="2433.8" r="1.82"/><circle cx="3881.69" cy="2433.8" r="1.82"/><circle cx="3885.56" cy="2433.8" r="1.82"/><circle cx="3746.04" cy="2437.68" r="1.82"/><circle cx="3757.66" cy="2437.68" r="1.82"/><circle cx="3761.54" cy="2437.68" r="1.82"/><circle cx="3773.17" cy="2437.68" r="1.82"/><circle cx="3777.04" cy="2437.68" r="1.82"/><circle cx="3780.92" cy="2437.68" r="1.82"/><circle cx="3842.93" cy="2437.68" r="1.82"/><circle cx="3850.68" cy="2437.68" r="1.82"/><circle cx="3854.56" cy="2437.68" r="1.82"/><circle cx="3873.94" cy="2437.68" r="1.82"/><circle cx="3749.91" cy="2441.55" r="1.82"/><circle cx="3757.66" cy="2441.55" r="1.82"/><circle cx="3761.54" cy="2441.55" r="1.82"/><circle cx="3765.42" cy="2441.55" r="1.82"/><circle cx="3769.29" cy="2441.55" r="1.82"/><circle cx="3773.17" cy="2441.55" r="1.82"/><circle cx="3784.79" cy="2441.55" r="1.82"/><circle cx="3788.67" cy="2441.55" r="1.82"/><circle cx="3858.43" cy="2441.55" r="1.82"/><circle cx="3862.31" cy="2441.55" r="1.82"/><circle cx="3870.06" cy="2441.55" r="1.82"/><circle cx="3873.94" cy="2441.55" r="1.82"/><circle cx="3877.81" cy="2441.55" r="1.82"/><circle cx="3757.66" cy="2445.43" r="1.82"/><circle cx="3761.54" cy="2445.43" r="1.82"/><circle cx="3765.42" cy="2445.43" r="1.82"/><circle cx="3773.17" cy="2445.43" r="1.82"/><circle cx="3777.04" cy="2445.43" r="1.82"/><circle cx="3780.92" cy="2445.43" r="1.82"/><circle cx="3792.55" cy="2445.43" r="1.82"/><circle cx="3839.05" cy="2445.43" r="1.82"/><circle cx="3854.56" cy="2445.43" r="1.82"/><circle cx="3866.18" cy="2445.43" r="1.82"/><circle cx="3749.91" cy="2449.3" r="1.82"/><circle cx="3753.79" cy="2449.3" r="1.82"/><circle cx="3761.54" cy="2449.3" r="1.82"/><circle cx="3769.29" cy="2449.3" r="1.82"/><circle cx="3777.04" cy="2449.3" r="1.82"/><circle cx="3780.92" cy="2449.3" r="1.82"/><circle cx="3784.79" cy="2449.3" r="1.82"/><circle cx="3792.55" cy="2449.3" r="1.82"/><circle cx="3850.68" cy="2449.3" r="1.82"/><circle cx="3854.56" cy="2449.3" r="1.82"/><circle cx="3858.43" cy="2449.3" r="1.82"/><circle cx="3862.31" cy="2449.3" r="1.82"/><circle cx="3866.18" cy="2449.3" r="1.82"/><circle cx="3877.81" cy="2449.3" r="1.82"/><circle cx="3746.04" cy="2453.18" r="1.82"/><circle cx="3753.79" cy="2453.18" r="1.82"/><circle cx="3757.66" cy="2453.18" r="1.82"/><circle cx="3765.42" cy="2453.18" r="1.82"/><circle cx="3777.04" cy="2453.18" r="1.82"/><circle cx="3780.92" cy="2453.18" r="1.82"/><circle cx="3784.79" cy="2453.18" r="1.82"/><circle cx="3788.67" cy="2453.18" r="1.82"/><circle cx="3850.68" cy="2453.18" r="1.82"/><circle cx="3858.43" cy="2453.18" r="1.82"/><circle cx="3866.18" cy="2453.18" r="1.82"/><circle cx="3873.94" cy="2453.18" r="1.82"/><circle cx="3749.91" cy="2457.05" r="1.82"/><circle cx="3753.79" cy="2457.05" r="1.82"/><circle cx="3757.66" cy="2457.05" r="1.82"/><circle cx="3765.42" cy="2457.05" r="1.82"/><circle cx="3769.29" cy="2457.05" r="1.82"/><circle cx="3773.17" cy="2457.05" r="1.82"/><circle cx="3777.04" cy="2457.05" r="1.82"/><circle cx="3792.55" cy="2457.05" r="1.82"/><circle cx="3796.42" cy="2457.05" r="1.82"/><circle cx="3808.05" cy="2457.05" r="1.82"/><circle cx="3811.92" cy="2457.05" r="1.82"/><circle cx="3823.55" cy="2457.05" r="1.82"/><circle cx="3831.3" cy="2457.05" r="1.82"/><circle cx="3835.18" cy="2457.05" r="1.82"/><circle cx="3842.93" cy="2457.05" r="1.82"/><circle cx="3846.81" cy="2457.05" r="1.82"/><circle cx="3858.43" cy="2457.05" r="1.82"/><circle cx="3862.31" cy="2457.05" r="1.82"/><circle cx="3866.18" cy="2457.05" r="1.82"/><circle cx="3870.06" cy="2457.05" r="1.82"/><circle cx="3873.94" cy="2457.05" r="1.82"/><circle cx="3877.81" cy="2457.05" r="1.82"/><circle cx="3885.56" cy="2457.05" r="1.82"/><circle cx="3746.04" cy="2460.93" r="1.82"/><circle cx="3749.91" cy="2460.93" r="1.82"/><circle cx="3761.54" cy="2460.93" r="1.82"/><circle cx="3765.42" cy="2460.93" r="1.82"/><circle cx="3780.92" cy="2460.93" r="1.82"/><circle cx="3784.79" cy="2460.93" r="1.82"/><circle cx="3788.67" cy="2460.93" r="1.82"/><circle cx="3796.42" cy="2460.93" r="1.82"/><circle cx="3800.3" cy="2460.93" r="1.82"/><circle cx="3808.05" cy="2460.93" r="1.82"/><circle cx="3811.92" cy="2460.93" r="1.82"/><circle cx="3815.8" cy="2460.93" r="1.82"/><circle cx="3819.68" cy="2460.93" r="1.82"/><circle cx="3827.43" cy="2460.93" r="1.82"/><circle cx="3835.18" cy="2460.93" r="1.82"/><circle cx="3839.05" cy="2460.93" r="1.82"/><circle cx="3842.93" cy="2460.93" r="1.82"/><circle cx="3846.81" cy="2460.93" r="1.82"/><circle cx="3870.06" cy="2460.93" r="1.82"/><circle cx="3881.69" cy="2460.93" r="1.82"/><circle cx="3885.56" cy="2460.93" r="1.82"/><circle cx="3749.91" cy="2464.81" r="1.82"/><circle cx="3757.66" cy="2464.81" r="1.82"/><circle cx="3761.54" cy="2464.81" r="1.82"/><circle cx="3769.29" cy="2464.81" r="1.82"/><circle cx="3773.17" cy="2464.81" r="1.82"/><circle cx="3780.92" cy="2464.81" r="1.82"/><circle cx="3784.79" cy="2464.81" r="1.82"/><circle cx="3792.55" cy="2464.81" r="1.82"/><circle cx="3819.68" cy="2464.81" r="1.82"/><circle cx="3823.55" cy="2464.81" r="1.82"/><circle cx="3831.3" cy="2464.81" r="1.82"/><circle cx="3842.93" cy="2464.81" r="1.82"/><circle cx="3846.81" cy="2464.81" r="1.82"/><circle cx="3850.68" cy="2464.81" r="1.82"/><circle cx="3862.31" cy="2464.81" r="1.82"/><circle cx="3873.94" cy="2464.81" r="1.82"/><circle cx="3877.81" cy="2464.81" r="1.82"/><circle cx="3881.69" cy="2464.81" r="1.82"/><circle cx="3749.91" cy="2468.68" r="1.82"/><circle cx="3753.79" cy="2468.68" r="1.82"/><circle cx="3757.66" cy="2468.68" r="1.82"/><circle cx="3765.42" cy="2468.68" r="1.82"/><circle cx="3773.17" cy="2468.68" r="1.82"/><circle cx="3777.04" cy="2468.68" r="1.82"/><circle cx="3780.92" cy="2468.68" r="1.82"/><circle cx="3784.79" cy="2468.68" r="1.82"/><circle cx="3796.42" cy="2468.68" r="1.82"/><circle cx="3808.05" cy="2468.68" r="1.82"/><circle cx="3819.68" cy="2468.68" r="1.82"/><circle cx="3827.43" cy="2468.68" r="1.82"/><circle cx="3831.3" cy="2468.68" r="1.82"/><circle cx="3835.18" cy="2468.68" r="1.82"/><circle cx="3839.05" cy="2468.68" r="1.82"/><circle cx="3842.93" cy="2468.68" r="1.82"/><circle cx="3846.81" cy="2468.68" r="1.82"/><circle cx="3854.56" cy="2468.68" r="1.82"/><circle cx="3862.31" cy="2468.68" r="1.82"/><circle cx="3866.18" cy="2468.68" r="1.82"/><circle cx="3877.81" cy="2468.68" r="1.82"/><circle cx="3881.69" cy="2468.68" r="1.82"/><circle cx="3749.91" cy="2472.56" r="1.82"/><circle cx="3753.79" cy="2472.56" r="1.82"/><circle cx="3769.29" cy="2472.56" r="1.82"/><circle cx="3784.79" cy="2472.56" r="1.82"/><circle cx="3792.55" cy="2472.56" r="1.82"/><circle cx="3804.17" cy="2472.56" r="1.82"/><circle cx="3808.05" cy="2472.56" r="1.82"/><circle cx="3823.55" cy="2472.56" r="1.82"/><circle cx="3827.43" cy="2472.56" r="1.82"/><circle cx="3839.05" cy="2472.56" r="1.82"/><circle cx="3842.93" cy="2472.56" r="1.82"/><circle cx="3846.81" cy="2472.56" r="1.82"/><circle cx="3854.56" cy="2472.56" r="1.82"/><circle cx="3858.43" cy="2472.56" r="1.82"/><circle cx="3862.31" cy="2472.56" r="1.82"/><circle cx="3866.18" cy="2472.56" r="1.82"/><circle cx="3870.06" cy="2472.56" r="1.82"/><circle cx="3780.92" cy="2476.43" r="1.82"/><circle cx="3784.79" cy="2476.43" r="1.82"/><circle cx="3796.42" cy="2476.43" r="1.82"/><circle cx="3800.3" cy="2476.43" r="1.82"/><circle cx="3804.17" cy="2476.43" r="1.82"/><circle cx="3815.8" cy="2476.43" r="1.82"/><circle cx="3823.55" cy="2476.43" r="1.82"/><circle cx="3835.18" cy="2476.43" r="1.82"/><circle cx="3842.93" cy="2476.43" r="1.82"/><circle cx="3850.68" cy="2476.43" r="1.82"/><circle cx="3854.56" cy="2476.43" r="1.82"/><circle cx="3870.06" cy="2476.43" r="1.82"/><circle cx="3777.04" cy="2480.31" r="1.82"/><circle cx="3780.92" cy="2480.31" r="1.82"/><circle cx="3784.79" cy="2480.31" r="1.82"/><circle cx="3792.55" cy="2480.31" r="1.82"/><circle cx="3804.17" cy="2480.31" r="1.82"/><circle cx="3808.05" cy="2480.31" r="1.82"/><circle cx="3811.92" cy="2480.31" r="1.82"/><circle cx="3823.55" cy="2480.31" r="1.82"/><circle cx="3831.3" cy="2480.31" r="1.82"/><circle cx="3839.05" cy="2480.31" r="1.82"/><circle cx="3854.56" cy="2480.31" r="1.82"/><circle cx="3862.31" cy="2480.31" r="1.82"/><circle cx="3870.06" cy="2480.31" r="1.82"/><circle cx="3873.94" cy="2480.31" r="1.82"/><circle cx="3877.81" cy="2480.31" r="1.82"/><circle cx="3777.04" cy="2484.18" r="1.82"/><circle cx="3784.79" cy="2484.18" r="1.82"/><circle cx="3796.42" cy="2484.18" r="1.82"/><circle cx="3800.3" cy="2484.18" r="1.82"/><circle cx="3808.05" cy="2484.18" r="1.82"/><circle cx="3811.92" cy="2484.18" r="1.82"/><circle cx="3815.8" cy="2484.18" r="1.82"/><circle cx="3827.43" cy="2484.18" r="1.82"/><circle cx="3831.3" cy="2484.18" r="1.82"/><circle cx="3835.18" cy="2484.18" r="1.82"/><circle cx="3839.05" cy="2484.18" r="1.82"/><circle cx="3842.93" cy="2484.18" r="1.82"/><circle cx="3854.56" cy="2484.18" r="1.82"/><circle cx="3870.06" cy="2484.18" r="1.82"/><circle cx="3881.69" cy="2484.18" r="1.82"/><circle cx="3784.79" cy="2488.06" r="1.82"/><circle cx="3788.67" cy="2488.06" r="1.82"/><circle cx="3792.55" cy="2488.06" r="1.82"/><circle cx="3796.42" cy="2488.06" r="1.82"/><circle cx="3804.17" cy="2488.06" r="1.82"/><circle cx="3811.92" cy="2488.06" r="1.82"/><circle cx="3823.55" cy="2488.06" r="1.82"/><circle cx="3827.43" cy="2488.06" r="1.82"/><circle cx="3842.93" cy="2488.06" r="1.82"/><circle cx="3846.81" cy="2488.06" r="1.82"/><circle cx="3854.56" cy="2488.06" r="1.82"/><circle cx="3858.43" cy="2488.06" r="1.82"/><circle cx="3862.31" cy="2488.06" r="1.82"/><circle cx="3866.18" cy="2488.06" r="1.82"/><circle cx="3870.06" cy="2488.06" r="1.82"/><circle cx="3881.69" cy="2488.06" r="1.82"/><circle cx="3885.56" cy="2488.06" r="1.82"/><circle cx="3777.04" cy="2491.94" r="1.82"/><circle cx="3784.79" cy="2491.94" r="1.82"/><circle cx="3788.67" cy="2491.94" r="1.82"/><circle cx="3808.05" cy="2491.94" r="1.82"/><circle cx="3819.68" cy="2491.94" r="1.82"/><circle cx="3823.55" cy="2491.94" r="1.82"/><circle cx="3827.43" cy="2491.94" r="1.82"/><circle cx="3831.3" cy="2491.94" r="1.82"/><circle cx="3846.81" cy="2491.94" r="1.82"/><circle cx="3850.68" cy="2491.94" r="1.82"/><circle cx="3858.43" cy="2491.94" r="1.82"/><circle cx="3862.31" cy="2491.94" r="1.82"/><circle cx="3866.18" cy="2491.94" r="1.82"/><circle cx="3877.81" cy="2491.94" r="1.82"/><circle cx="3881.69" cy="2491.94" r="1.82"/><circle cx="3885.56" cy="2491.94" r="1.82"/><circle cx="3777.04" cy="2495.81" r="1.82"/><circle cx="3780.92" cy="2495.81" r="1.82"/><circle cx="3784.79" cy="2495.81" r="1.82"/><circle cx="3788.67" cy="2495.81" r="1.82"/><circle cx="3792.55" cy="2495.81" r="1.82"/><circle cx="3796.42" cy="2495.81" r="1.82"/><circle cx="3800.3" cy="2495.81" r="1.82"/><circle cx="3811.92" cy="2495.81" r="1.82"/><circle cx="3823.55" cy="2495.81" r="1.82"/><circle cx="3831.3" cy="2495.81" r="1.82"/><circle cx="3835.18" cy="2495.81" r="1.82"/><circle cx="3839.05" cy="2495.81" r="1.82"/><circle cx="3854.56" cy="2495.81" r="1.82"/><circle cx="3858.43" cy="2495.81" r="1.82"/><circle cx="3862.31" cy="2495.81" r="1.82"/><circle cx="3780.92" cy="2499.69" r="1.82"/><circle cx="3800.3" cy="2499.69" r="1.82"/><circle cx="3811.92" cy="2499.69" r="1.82"/><circle cx="3827.43" cy="2499.69" r="1.82"/><circle cx="3839.05" cy="2499.69" r="1.82"/><circle cx="3842.93" cy="2499.69" r="1.82"/><circle cx="3854.56" cy="2499.69" r="1.82"/><circle cx="3866.18" cy="2499.69" r="1.82"/><circle cx="3885.56" cy="2499.69" r="1.82"/><circle cx="3780.92" cy="2503.56" r="1.82"/><circle cx="3800.3" cy="2503.56" r="1.82"/><circle cx="3804.17" cy="2503.56" r="1.82"/><circle cx="3808.05" cy="2503.56" r="1.82"/><circle cx="3823.55" cy="2503.56" r="1.82"/><circle cx="3827.43" cy="2503.56" r="1.82"/><circle cx="3839.05" cy="2503.56" r="1.82"/><circle cx="3846.81" cy="2503.56" r="1.82"/><circle cx="3850.68" cy="2503.56" r="1.82"/><circle cx="3854.56" cy="2503.56" r="1.82"/><circle cx="3858.43" cy="2503.56" r="1.82"/><circle cx="3862.31" cy="2503.56" r="1.82"/><circle cx="3866.18" cy="2503.56" r="1.82"/></g>
<rect x="3746.04" y="2364.04" width="23.25" height="23.25" rx="3.88" fill="none" stroke="#000" stroke-width="3.88"/>
<rect x="3751.85" y="2369.85" width="11.63" height="11.63" rx="1.94" fill="#000"/>
<rect x="3862.31" y="2364.04" width="23.25" height="23.25" rx="3.88" fill="none" stroke="#000" stroke-width="3.88"/>
<rect x="3868.12" y="2369.85" width="11.63" height="11.63" rx="1.94" fill="#000"/>
<rect x="3746.04" y="2480.31" width="23.25" height="23.25" rx="3.88" fill="none" stroke="#000" stroke-width="3.88"/>
<rect x="3751.85" y="2486.12" width="11.63" height="11.63" rx="1.94" fill="#000"/>
<rect x="3798.8" y="2416.8" width="34" height="34" rx="5" fill="#000"/>
<ellipse cx="3812.8" cy="2430.8" rx="8" ry="6.5" fill="#fff"/><ellipse cx="3819.8" cy="2437.8" rx="6.5" ry="5.5" fill="#fff" stroke="#000" stroke-width="1.5"/>
<path d="M4488.5 2107 H4608 V2173 C4608 2215 4584 2244 4548.3 2260.5 C4512 2244 4488.5 2215 4488.5 2173 Z" fill="#fff" stroke="#24417F" stroke-width="3"/>
<rect x="4487.1" y="2105.9" width="122.5" height="47" fill="#24417F"/>
<g transform="translate(4480 2095) scale(0.054348)">
<path fill="#DE7F22" d="M360 345 C500 320 680 330 780 370 C880 330 1060 320 1200 345 V940 C1050 910 880 920 780 960 C680 920 510 910 360 940 Z"/>
<path fill="#fff" d="M395 380 C520 360 680 370 765 400 V830 C680 805 520 800 395 820 Z M795 400 C880 370 1040 360 1165 380 V820 C1040 800 880 805 795 830 Z"/>
<g fill="none" stroke="#24417F" stroke-width="38" stroke-linecap="round"><path d="M470 455 C560 430 640 435 705 465"/><path d="M860 465 C925 435 1005 430 1095 455"/><path d="M470 545 C560 520 640 525 705 555"/><path d="M860 555 C925 525 1005 520 1095 545"/><path d="M470 635 C560 610 640 615 705 645"/><path d="M860 645 C925 615 1005 610 1095 635"/><path d="M470 725 C560 700 640 705 705 735"/><path d="M860 735 C925 705 1005 700 1095 725"/></g>
<g fill="none" stroke="#DE7F22" stroke-width="72"><circle cx="1800" cy="520" r="205"/><circle cx="1680" cy="770" r="205"/><circle cx="1930" cy="760" r="205"/></g>
<g fill="none" stroke="#fff" stroke-width="36"><circle cx="1800" cy="520" r="205"/><circle cx="1680" cy="770" r="205"/><circle cx="1930" cy="760" r="205"/></g>
</g>
<g transform="translate(4480 2150) scale(0.09314)" stroke="#24417F" stroke-width="9" stroke-linejoin="round">
<path fill="none" stroke="#24417F" stroke-width="34" d="M1085 352 C1240 345 1310 310 1290 262 C1265 215 1120 250 980 268 C880 280 810 255 825 205 C840 165 900 168 1010 170"/>
<path fill="none" stroke="#DE7F22" stroke-width="18" d="M1085 352 C1240 345 1310 310 1290 262 C1265 215 1120 250 980 268 C880 280 810 255 825 205 C840 165 900 168 1010 170"/>
<path fill="#24417F" d="M990 175 C1040 130 1120 125 1190 135 L1250 165 C1180 170 1150 200 1110 215 C1060 220 1010 200 990 175 Z"/>
<path fill="#DE7F22" d="M700 360 L1090 345 C1125 380 1125 440 1128 480 C1150 560 1175 640 1150 690 L1090 760 C1070 800 1060 830 1040 850 L960 875 L930 845 L965 805 L1010 765 C1040 720 1060 680 1055 650 L995 565 L950 500 C960 560 965 620 955 675 L900 745 L850 795 L780 825 L740 795 L775 765 L840 735 L878 672 L868 592 L858 545 L700 572 L640 625 L592 700 L560 785 L540 832 L470 882 L385 862 L378 822 L450 800 L492 760 L530 680 L570 600 L612 540 L640 480 L690 420 Z"/>
<path fill="#DE7F22" d="M175 212 L212 165 L255 198 L270 268 L330 338 L392 398 L432 450 L438 522 L398 548 L345 522 L295 472 L245 362 L195 292 Z"/>
<path fill="#24417F" stroke="none" d="M300 450 L290 520 L320 580 L355 545 L380 520 Z M700 575 L680 640 L720 610 L760 590 Z M920 470 L940 520 L980 500 Z M1140 650 L1220 660 L1170 700 Z M980 650 L1010 680 L975 720 Z M370 820 L360 850 L400 880 Z M720 780 L745 810 L760 830 Z M915 830 L940 860 L960 880 Z"/>
<path fill="#24417F" d="M335 150 L400 112 L470 108 L548 122 L620 112 L700 142 L722 172 L745 215 L735 258 L748 292 L722 332 L716 382 L690 422 L662 462 L642 522 L602 560 L562 600 L522 612 L490 582 L452 542 L432 502 L382 472 L352 422 L342 362 L322 302 L332 262 L322 212 Z"/>
<path fill="#DE7F22" stroke="none" d="M412 192 L462 172 L540 188 L642 182 L652 232 L632 282 L602 332 L592 372 L562 402 L512 412 L482 382 L462 342 L432 302 L417 252 Z"/>
<path fill="none" stroke="#24417F" stroke-width="8" d="M470 250 L510 258 M560 250 L595 245 M530 270 L520 330 L500 335 M480 380 L560 375"/>
</g>
<defs><clipPath id="seac"><circle cx="4433.4" cy="2410.1" r="57"/></clipPath></defs>
<g clip-path="url(#seac)"><rect x="4370" y="2350" width="130" height="130" fill="#00007F"/><path d="M4370 2350 H4500 V2443 C4480 2448 4460 2445 4440 2440 C4420 2434 4400 2430 4370 2434 Z" fill="#5B8DEF"/><path d="M4370 2350 H4500 V2407 C4480 2406 4460 2410 4440 2417 C4420 2424 4400 2424 4370 2417 Z" fill="#86E5FA"/><path d="M4370 2350 H4500 V2396 C4475 2392 4455 2392 4433 2393 C4415 2388 4395 2382 4370 2382 Z" fill="#6AA84F"/><path d="M4370 2350 H4500 V2382 C4480 2382 4460 2385 4434 2393 C4415 2388 4395 2382 4370 2382 Z" fill="#E04E14"/><path d="M4370 2350 H4500 V2362 C4480 2362 4470 2370 4455 2372 C4430 2377 4410 2375 4370 2375 Z" fill="#D2021A"/></g>
<g transform="translate(4505 2370) scale(0.07764)" fill="none" stroke="#060680" stroke-width="150" stroke-linecap="round">
<path d="M560 300 C500 270 450 245 400 245 C320 245 245 290 245 370 C245 450 330 480 400 505 C480 535 560 560 560 650 C560 740 480 780 390 780 C320 780 270 750 215 720"/>
<path stroke-linecap="butt" d="M820 512 H1290 C1290 370 1180 245 1040 245 C900 245 800 370 800 512 C800 660 900 780 1050 780 C1140 780 1210 745 1270 712"/>
<path stroke-linecap="round" d="M1270 712 L1272 713"/>
<ellipse cx="1765" cy="512" rx="230" ry="267"/><path d="M2010 255 V775"/>
</g>
<line x1="4703.6" y1="2383.6" x2="4703.6" y2="2436.1" stroke="#C3CAD0" stroke-width="1.6"/>
<g transform="translate(4700 2370) scale(0.10093)" fill="#060680">
<path fill-rule="evenodd" d="M280 665 L490 130 H605 L812 665 H690 L658 560 H440 L400 665 Z M485 450 H612 L550 285 Z"/>
<rect x="890" y="130" width="110" height="535"/>
<path d="M1185 130 H1292 V470 C1292 520 1330 555 1380 555 H1468 V668 H1400 C1270 668 1185 590 1185 470 Z"/>
<circle cx="1717" cy="440" r="165" fill="none" stroke="#060680" stroke-width="110"/><rect x="1825" y="222" width="107" height="438"/>
<rect x="2005" y="130" width="108" height="535"/><circle cx="2222" cy="440" r="162" fill="none" stroke="#060680" stroke-width="108"/>
</g>
</svg>
<div class="t" style="left:232.11px;top:209.01px;font-size:124px;color:#B8292F;font-weight:bold;transform:scaleX(0.9428)">PipeOffload:</div>
<div class="t" style="left:955.93px;top:209.01px;font-size:124px;color:#B8292F;font-weight:bold;transform:scaleX(0.9507)">Improving</div>
<div class="t" style="left:1549px;top:209.01px;font-size:124px;color:#B8292F;font-weight:bold;transform:scaleX(0.9188)">Scalability</div>
<div class="t" style="left:2142.16px;top:209.01px;font-size:124px;color:#B8292F;font-weight:bold;transform:scaleX(0.9767)">of</div>
<div class="t" style="left:2286.84px;top:209.01px;font-size:124px;color:#B8292F;font-weight:bold;transform:scaleX(0.9422)">Pipeline</div>
<div class="t" style="left:2764.9px;top:209.01px;font-size:124px;color:#B8292F;font-weight:bold;transform:scaleX(0.9253)">Parallelism</div>
<div class="t" style="left:3401.94px;top:209.01px;font-size:124px;color:#B8292F;font-weight:bold;transform:scaleX(1.0113)">with</div>
<div class="t" style="left:3682.68px;top:209.01px;font-size:124px;color:#B8292F;font-weight:bold">Memory</div>
<div class="t" style="left:4186.63px;top:209.01px;font-size:124px;color:#B8292F;font-weight:bold;transform:scaleX(0.9608)">Optimization</div>
<div class="t" style="left:1167.76px;top:386.48px;font-size:101px;color:#000;transform:scaleX(0.9839)">Xinyi</div>
<div class="t" style="left:1407.64px;top:386.48px;font-size:101px;color:#000;transform:scaleX(1.0655)">Wan*,</div>
<div class="t" style="left:1718.74px;top:386.48px;font-size:101px;color:#000;transform:scaleX(0.9719)">Penghui</div>
<div class="t" style="left:2102.46px;top:386.48px;font-size:101px;color:#000;transform:scaleX(1.0993)">Qi*,</div>
<div class="t" style="left:2308.81px;top:386.48px;font-size:101px;color:#000;transform:scaleX(0.9763)">Guangxing</div>
<div class="t" style="left:2805.43px;top:386.48px;font-size:101px;color:#000;transform:scaleX(0.9817)">Huang,</div>
<div class="t" style="left:3148.18px;top:386.48px;font-size:101px;color:#000;transform:scaleX(1.0905)">Min</div>
<div class="t" style="left:3349.35px;top:386.48px;font-size:101px;color:#000;transform:scaleX(0.9772)">Lin,</div>
<div class="t" style="left:3532.08px;top:386.48px;font-size:101px;color:#000;transform:scaleX(0.9575)">Jialin</div>
<div class="t" style="left:3777.46px;top:386.48px;font-size:101px;color:#000;transform:scaleX(0.9152)">Li</div>
<div class="t" style="left:895.02px;top:592.88px;font-size:71px;color:#000;transform:scaleX(0.9338)">Stream 1</div>
<div class="t" style="left:894.92px;top:700.38px;font-size:71px;color:#000;transform:scaleX(0.9628)">Stream 2</div>
<div class="t" style="left:1232.16px;top:592.88px;font-size:71px;color:#000;transform:scaleX(0.9636)">Forward</div>
<div class="t" style="left:3615.33px;top:593.38px;font-size:71px;color:#000;transform:scaleX(0.9688)">Backward</div>
<div class="t" style="left:1523.75px;top:699.58px;font-size:71px;color:#000;transform:scaleX(0.9643)">Offload (D2H)</div>
<div class="t" style="left:3021.74px;top:699.68px;font-size:71px;color:#000;transform:scaleX(0.9663)">Reload (H2D)</div>
<div class="t" style="left:398.25px;top:901.9px;font-size:107px;color:#000;transform:scaleX(0.9366)">The</div>
<div class="t" style="left:594.21px;top:901.9px;font-size:107px;color:#000;transform:scaleX(0.9647)">gap</div>
<div class="t" style="left:789.23px;top:901.9px;font-size:107px;color:#000;transform:scaleX(1.0161)">between</div>
<div class="t" style="left:1221.86px;top:901.9px;font-size:107px;color:#000;transform:scaleX(1.0236)">forward</div>
<div class="t" style="left:1611.74px;top:901.9px;font-size:107px;color:#000;transform:scaleX(1.0037)">and</div>
<div class="t" style="left:1815.02px;top:901.9px;font-size:107px;color:#000;transform:scaleX(1.0175)">backward</div>
<div class="t" style="left:2304.96px;top:901.9px;font-size:107px;color:#000;transform:scaleX(0.9976)">provides</div>
<div class="t" style="left:2733.8px;top:901.9px;font-size:107px;color:#000;transform:scaleX(0.8366)">a</div>
<div class="t" style="left:2813.78px;top:901.9px;font-size:107px;color:#000;transform:scaleX(1.0406)">natural</div>
<div class="t" style="left:3173.77px;top:901.9px;font-size:107px;color:#000;transform:scaleX(1.0216)">window</div>
<div class="t" style="left:3560.33px;top:901.9px;font-size:107px;color:#000;transform:scaleX(1.0426)">for</div>
<div class="t" style="left:3712.23px;top:901.9px;font-size:107px;color:#000;transform:scaleX(1.0487)">offloading</div>
<div class="t" style="left:4213.63px;top:901.9px;font-size:107px;color:#000;transform:scaleX(1.0266)">activations</div>
<div class="t" style="left:310.16px;top:1334.25px;font-size:106px;color:#000;transform:scaleX(0.9085)">A</div>
<div class="t" style="left:397.43px;top:1334.25px;font-size:106px;color:#000;transform:scaleX(1.1755)">full</div>
<div class="t" style="left:570.09px;top:1334.25px;font-size:106px;color:#000;transform:scaleX(1.0351)">memory</div>
<div class="t" style="left:342.13px;top:1465.25px;font-size:106px;color:#000;transform:scaleX(1.0586)">offload</div>
<div class="t" style="left:700.84px;top:1465.25px;font-size:106px;color:#000;transform:scaleX(1.0125)">does</div>
<div class="t" style="left:270.41px;top:1599.25px;font-size:106px;color:#DD0000;transform:scaleX(0.9368)">NOT</div>
<div class="t" style="left:503.22px;top:1599.25px;font-size:106px;color:#000;transform:scaleX(1.0213)">slow</div>
<div class="t" style="left:744.74px;top:1599.25px;font-size:106px;color:#000;transform:scaleX(1.0334)">down</div>
<div class="t" style="left:423.95px;top:1732.25px;font-size:106px;color:#000;transform:scaleX(1.0548)">compute</div>
<div class="t" style="left:4175.14px;top:1436.25px;font-size:106px;color:#DD0000;transform:scaleX(1.0012)">Linear</div>
<div class="t" style="left:4494.77px;top:1436.25px;font-size:106px;color:#DD0000;transform:scaleX(1.0400)">scaling</div>
<div class="t" style="left:4852.51px;top:1436.25px;font-size:106px;color:#000;transform:scaleX(1.0642)">of</div>
<div class="t" style="left:4120.09px;top:1567.25px;font-size:106px;color:#000;transform:scaleX(1.0452)">activation</div>
<div class="t" style="left:4610.83px;top:1567.25px;font-size:106px;color:#000;transform:scaleX(1.0301)">memory</div>
<div class="t" style="left:1396.37px;top:1194.55px;font-size:58.4px;color:#000;transform:scaleX(1.0380)">31.1%</div>
<div class="t" style="left:1628.43px;top:1194.55px;font-size:58.4px;color:#000;transform:scaleX(1.0436)">20.0%</div>
<div class="t" style="left:1878.81px;top:1194.55px;font-size:58.4px;color:#000;transform:scaleX(1.0362)">6.2%</div>
<div class="t" style="left:2101.41px;top:1194.55px;font-size:58.4px;color:#fff;transform:scaleX(1.0413)">-7.4%</div>
<div class="t" style="left:1190.18px;top:1198.75px;font-size:58.4px;color:#000;transform:scaleX(1.0629)">4096</div>
<div class="t" style="left:1395.05px;top:1310.95px;font-size:58.4px;color:#000;transform:scaleX(1.0402)">15.0%</div>
<div class="t" style="left:1645.91px;top:1310.95px;font-size:58.4px;color:#000;transform:scaleX(1.0362)">6.9%</div>
<div class="t" style="left:1879.29px;top:1310.95px;font-size:58.4px;color:#fff;transform:scaleX(1.0336)">0.2%</div>
<div class="t" style="left:2101.41px;top:1310.95px;font-size:58.4px;color:#fff;transform:scaleX(1.0413)">-3.8%</div>
<div class="t" style="left:1190.9px;top:1315.15px;font-size:58.4px;color:#000;transform:scaleX(1.0548)">5120</div>
<div class="t" style="left:1413.08px;top:1427.35px;font-size:58.4px;color:#000;transform:scaleX(1.0351)">2.9%</div>
<div class="t" style="left:1646.39px;top:1427.35px;font-size:58.4px;color:#fff;transform:scaleX(1.0336)">0.5%</div>
<div class="t" style="left:1879.29px;top:1427.35px;font-size:58.4px;color:#fff;transform:scaleX(1.0336)">0.3%</div>
<div class="t" style="left:2112.19px;top:1427.35px;font-size:58.4px;color:#fff;transform:scaleX(1.0336)">0.2%</div>
<div class="t" style="left:1189.3px;top:1431.55px;font-size:58.4px;color:#000;transform:scaleX(1.0625)">6144</div>
<div class="t" style="left:1413.49px;top:1543.75px;font-size:58.4px;color:#fff;transform:scaleX(1.0336)">0.6%</div>
<div class="t" style="left:1646.39px;top:1543.75px;font-size:58.4px;color:#fff;transform:scaleX(1.0336)">0.5%</div>
<div class="t" style="left:1879.29px;top:1543.75px;font-size:58.4px;color:#fff;transform:scaleX(1.0336)">0.2%</div>
<div class="t" style="left:2101.41px;top:1543.75px;font-size:58.4px;color:#fff;transform:scaleX(1.0413)">-4.2%</div>
<div class="t" style="left:1190.68px;top:1547.95px;font-size:58.4px;color:#000;transform:scaleX(1.0590)">7168</div>
<div class="t" style="left:1412.62px;top:1660.15px;font-size:58.4px;color:#fff;transform:scaleX(1.0308)">1.0%</div>
<div class="t" style="left:1646.39px;top:1660.15px;font-size:58.4px;color:#fff;transform:scaleX(1.0336)">0.8%</div>
<div class="t" style="left:1879.29px;top:1660.15px;font-size:58.4px;color:#fff;transform:scaleX(1.0336)">0.8%</div>
<div class="t" style="left:2112.19px;top:1660.15px;font-size:58.4px;color:#fff;transform:scaleX(1.0336)">0.1%</div>
<div class="t" style="left:1191.99px;top:1664.35px;font-size:58.4px;color:#000;transform:scaleX(1.0523)">8192</div>
<div class="t" style="left:1413.49px;top:1776.55px;font-size:58.4px;color:#fff;transform:scaleX(1.0336)">0.3%</div>
<div class="t" style="left:1646.39px;top:1776.55px;font-size:58.4px;color:#fff;transform:scaleX(1.0336)">0.1%</div>
<div class="t" style="left:1879.29px;top:1776.55px;font-size:58.4px;color:#fff;transform:scaleX(1.0336)">0.2%</div>
<div class="t" style="left:2101.41px;top:1776.55px;font-size:58.4px;color:#fff;transform:scaleX(1.0413)">-2.6%</div>
<div class="t" style="left:1155.58px;top:1780.75px;font-size:58.4px;color:#000;transform:scaleX(1.0609)">10240</div>
<div class="t" style="left:1414.09px;top:1898.75px;font-size:58.4px;color:#000;transform:scaleX(1.0629)">4096</div>
<div class="t" style="left:1647.29px;top:1898.75px;font-size:58.4px;color:#000;transform:scaleX(1.0523)">8192</div>
<div class="t" style="left:1860.69px;top:1898.75px;font-size:58.4px;color:#000;transform:scaleX(1.0605)">16384</div>
<div class="t" style="left:2095.3px;top:1898.75px;font-size:58.4px;color:#000;transform:scaleX(1.0595)">32768</div>
<div class="t" style="left:1341.29px;top:1083.34px;font-size:71.14px;color:#000;transform:scaleX(1.0325)">Slowdown of Fully Offload (%)</div>
<div class="t" style="left:1595.28px;top:1973.75px;font-size:58.4px;color:#000;transform:scaleX(1.0364)">Sequence Length</div>
<div class="t" style="left:1133px;top:1709.25px;font-size:58.4px;color:#000;transform-origin:0 20.25px;transform:rotate(-90deg) scaleX(1.0570)">Model Dimension</div>
<div class="t" style="left:2434.74px;top:1161.05px;font-size:58.4px;color:#000;transform:scaleX(1.0305)">30</div>
<div class="t" style="left:2433.95px;top:1342.35px;font-size:58.4px;color:#000;transform:scaleX(1.0454)">20</div>
<div class="t" style="left:2432.46px;top:1523.65px;font-size:58.4px;color:#000;transform:scaleX(1.0362)">10</div>
<div class="t" style="left:2434.67px;top:1704.95px;font-size:58.4px;color:#000;transform:scaleX(0.9960)">0</div>
<div class="t" style="left:3376.87px;top:1205.73px;font-size:47.78px;color:#000;transform:scaleX(1.0411)">1F1B-I</div>
<div class="t" style="left:3376.94px;top:1272.93px;font-size:47.78px;color:#000;transform:scaleX(1.0212)">1F1B</div>
<div class="t" style="left:3743.64px;top:1205.73px;font-size:47.78px;color:#000;transform:scaleX(1.0308)">PO-H (Ours)</div>
<div class="t" style="left:3743.68px;top:1272.93px;font-size:47.78px;color:#000;transform:scaleX(1.0200)">PO-F (Ours)</div>
<div class="t" style="left:2960.64px;top:1823.22px;font-size:47.25px;color:#000;transform:scaleX(0.9960)">0</div>
<div class="t" style="left:2932.02px;top:1710.33px;font-size:47.25px;color:#000;transform:scaleX(1.0454)">20</div>
<div class="t" style="left:2932.27px;top:1597.45px;font-size:47.25px;color:#000;transform:scaleX(1.0404)">40</div>
<div class="t" style="left:2931.91px;top:1484.57px;font-size:47.25px;color:#000;transform:scaleX(1.0477)">60</div>
<div class="t" style="left:2932.18px;top:1371.68px;font-size:47.25px;color:#000;transform:scaleX(1.0424)">80</div>
<div class="t" style="left:2904.19px;top:1258.8px;font-size:47.25px;color:#000;transform:scaleX(1.0493)">100</div>
<div class="t" style="left:2904.19px;top:1145.92px;font-size:47.25px;color:#000;transform:scaleX(1.0493)">120</div>
<div class="t" style="left:3053.9px;top:1873.82px;font-size:47.25px;color:#000;transform:scaleX(1.0351)">4</div>
<div class="t" style="left:3368.37px;top:1873.82px;font-size:47.25px;color:#000;transform:scaleX(1.1122)">8</div>
<div class="t" style="left:3668.26px;top:1873.82px;font-size:47.25px;color:#000;transform:scaleX(1.1408)">16</div>
<div class="t" style="left:3985.03px;top:1873.82px;font-size:47.25px;color:#000;transform:scaleX(1.1094)">32</div>
<div class="t" style="left:3426.71px;top:1935.62px;font-size:47.25px;color:#000;transform:scaleX(1.0227)">PP Stages</div>
<div class="t" style="left:3282.54px;top:1098.2px;font-size:59.99px;color:#000;transform:scaleX(1.0447)">Activation Memory</div>
<div class="t" style="left:2873.5px;top:1738.15px;font-size:47.25px;color:#000;transform-origin:0 16.38px;transform:rotate(-90deg) scaleX(1.0961)">Activation Memory (GB)</div>
<div class="t" style="left:244.44px;top:2241.72px;font-size:65.7px;color:#000;transform:scaleX(1.0075)">Follow</div>
<div class="t" style="left:448.32px;top:2241.72px;font-size:65.7px;color:#000;transform:scaleX(1.0323)">our</div>
<div class="t" style="left:149.02px;top:2322.52px;font-size:65.7px;color:#000;transform:scaleX(0.9839)">series</div>
<div class="t" style="left:336.13px;top:2322.52px;font-size:65.7px;color:#000;transform:scaleX(1.0275)">of</div>
<div class="t" style="left:406.56px;top:2322.52px;font-size:65.7px;color:#000">work</div>
<div class="t" style="left:149.74px;top:2401.52px;font-size:65.7px;color:#000;transform:scaleX(1.0728)">to</div>
<div class="t" style="left:221.66px;top:2401.52px;font-size:65.7px;color:#000;transform:scaleX(1.0012)">improve</div>
<div class="t" style="left:468.69px;top:2401.52px;font-size:65.7px;color:#000;transform:scaleX(0.8866)">PP</div>
<div class="t" style="left:747.76px;top:2162.77px;font-size:52.3px;color:#000;transform:scaleX(0.9625)">Zero</div>
<div class="t" style="left:861.93px;top:2162.77px;font-size:52.3px;color:#000;transform:scaleX(1.0138)">Bubble</div>
<div class="t" style="left:1036.56px;top:2162.77px;font-size:52.3px;color:#000;transform:scaleX(1.0060)">Pipeline</div>
<div class="t" style="left:1234.25px;top:2162.77px;font-size:52.3px;color:#000;transform:scaleX(1.0087)">Parallelism</div>
<div class="t" style="left:1033.28px;top:2223.69px;font-size:40.7px;color:#4472C4;transform:scaleX(0.8560);-webkit-text-stroke:0.7px #4472C4">ICLR’</div>
<div class="t" style="left:1133.33px;top:2223.69px;font-size:40.7px;color:#4472C4;transform:scaleX(0.9685);-webkit-text-stroke:0.7px #4472C4">24</div>
<div class="t" style="left:931.53px;top:2270.39px;font-size:40.7px;color:#4472C4;transform:scaleX(0.9432);-webkit-text-stroke:0.7px #4472C4">Extreme</div>
<div class="t" style="left:1081.33px;top:2270.39px;font-size:40.7px;color:#4472C4;transform:scaleX(0.9553);-webkit-text-stroke:0.7px #4472C4">Throughput</div>
<div class="t" style="left:841.94px;top:2396.87px;font-size:52.3px;color:#000;transform:scaleX(1.0021)">Vocabulary</div>
<div class="t" style="left:1112.27px;top:2396.87px;font-size:52.3px;color:#000;transform:scaleX(1.0035)">Parallelism</div>
<div class="t" style="left:1032.55px;top:2457.89px;font-size:40.7px;color:#4472C4;transform:scaleX(0.8502);-webkit-text-stroke:0.7px #4472C4">MLSys’</div>
<div class="t" style="left:1159.89px;top:2457.89px;font-size:40.7px;color:#4472C4;transform:scaleX(0.9876);-webkit-text-stroke:0.7px #4472C4">25</div>
<div class="t" style="left:949.57px;top:2505.09px;font-size:40.7px;color:#4472C4;transform:scaleX(0.9633);-webkit-text-stroke:0.7px #4472C4">Balanced</div>
<div class="t" style="left:1123px;top:2505.09px;font-size:40.7px;color:#4472C4;transform:scaleX(0.9596);-webkit-text-stroke:0.7px #4472C4">Workload</div>
<div class="t" style="left:2015.48px;top:2164.17px;font-size:52.3px;color:#000;transform:scaleX(0.9082)">PP</div>
<div class="t" style="left:2090.54px;top:2164.17px;font-size:52.3px;color:#000;transform:scaleX(1.0431)">with</div>
<div class="t" style="left:2196.17px;top:2164.17px;font-size:52.3px;color:#000;transform:scaleX(1.0424)">Controllable</div>
<div class="t" style="left:2495.91px;top:2164.17px;font-size:52.3px;color:#000;transform:scaleX(0.9946)">Memory</div>
<div class="t" style="left:2231.84px;top:2224.39px;font-size:40.7px;color:#4472C4;transform:scaleX(0.9411);-webkit-text-stroke:0.7px #4472C4">NeurIPS’24</div>
<div class="t" style="left:2172.76px;top:2271.49px;font-size:40.7px;color:#4472C4;transform:scaleX(0.9935);-webkit-text-stroke:0.7px #4472C4">Minimum</div>
<div class="t" style="left:2344.86px;top:2271.49px;font-size:40.7px;color:#4472C4;transform:scaleX(0.9661);-webkit-text-stroke:0.7px #4472C4">Memory</div>
<div class="t" style="left:2077.35px;top:2379.87px;font-size:52.3px;color:#000;transform:scaleX(1.0080)">PipeOffload</div>
<div class="t" style="left:2362.62px;top:2379.87px;font-size:52.3px;color:#000;transform:scaleX(0.9412)">(This</div>
<div class="t" style="left:2484.33px;top:2379.87px;font-size:52.3px;color:#000;transform:scaleX(0.9915)">work)</div>
<div class="t" style="left:2254.45px;top:2439.89px;font-size:40.7px;color:#4472C4;transform:scaleX(0.9163);-webkit-text-stroke:0.7px #4472C4">ICML’</div>
<div class="t" style="left:2359.41px;top:2439.89px;font-size:40.7px;color:#4472C4;transform:scaleX(0.9780);-webkit-text-stroke:0.7px #4472C4">25</div>
<div class="t" style="left:2238.99px;top:2486.89px;font-size:40.7px;color:#4472C4;transform:scaleX(0.9889);-webkit-text-stroke:0.7px #4472C4">Scalability</div>
<div class="t" style="left:3006.55px;top:2302.47px;font-size:52.3px;color:#000;transform:scaleX(1.0082)">More</div>
<div class="t" style="left:3134.78px;top:2302.47px;font-size:52.3px;color:#000;transform:scaleX(1.0250)">Details</div>
<div class="t" style="left:3557.85px;top:2209.5px;font-size:37.5px;color:#000;transform:scaleX(1.0169)">Paper</div>
<div class="t" style="left:3928.41px;top:2209.5px;font-size:37.5px;color:#000;transform:scaleX(1.0609)">Code</div>
<div class="t" style="left:3572.81px;top:2421px;font-size:37.5px;color:#000;transform:scaleX(1.0314)">HF</div>
<div class="t" style="left:3917.6px;top:2416.6px;font-size:37.5px;color:#000;transform:scaleX(1.0468)">Wechat</div>
<div class="t" style="left:4620.27px;top:2141.06px;font-size:108px;color:#24417F;font-weight:bold;transform:scaleX(0.9647)">NUS</div>
<div class="t" style="left:4624.44px;top:2203.85px;font-size:23.5px;color:#24417F;transform:scaleX(1.0612)">National University</div>
<div class="t" style="left:4624.95px;top:2231.45px;font-size:23.5px;color:#24417F;transform:scaleX(1.0537)">of Singapore</div>
<div class="t" style="left:4526.55px;top:2451.23px;font-size:15.5px;color:#060680;font-weight:bold;transform:scaleX(0.8856)">connecting the dots</div>
</body></html>
